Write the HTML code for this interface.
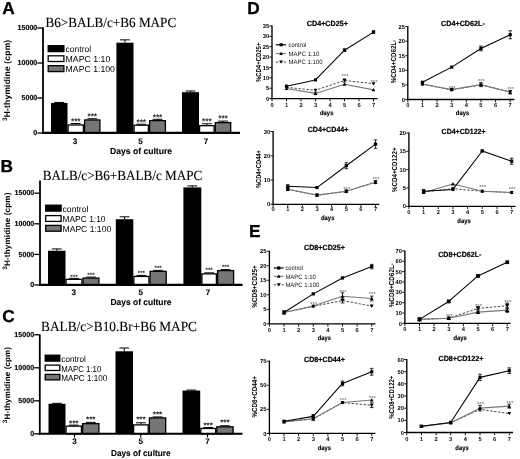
<!DOCTYPE html>
<html lang="en">
<head>
<meta charset="utf-8">
<title>MAPC suppression of T-cell proliferation and activation</title>
<style>
html,body{margin:0;padding:0;background:#fff;}
body{width:520px;height:459px;overflow:hidden;}
svg{display:block;}
svg text{white-space:pre;}
</style>
</head>
<body>
<svg width="520" height="459" viewBox="0 0 520 459" text-rendering="geometricPrecision">
<rect width="520" height="459" fill="#fff"/>
<g filter="url(#soft)">
<text x="2.30" y="13.50" font-size="17.3" font-family="'Liberation Sans', Arial, sans-serif" fill="#000" font-weight="bold" stroke="#000" stroke-width="0.3">A</text>
<text x="45.50" y="26.70" font-size="13.9" font-family="'Liberation Serif', 'Times New Roman', serif" fill="#000" textLength="130.70" lengthAdjust="spacingAndGlyphs" stroke="#000" stroke-width="0.12">B6&gt;BALB/c+B6 MAPC</text>
<text x="7.40" y="121.00" font-size="6.5" font-family="'Liberation Sans', Arial, sans-serif" fill="#000" font-weight="bold" transform="rotate(-90 7.40 121.00)" >3</text>
<text x="10.00" y="117.20" font-size="8.5" font-family="'Liberation Sans', Arial, sans-serif" fill="#000" font-weight="bold" textLength="77.40" lengthAdjust="spacing" transform="rotate(-90 10.00 117.20)" >H-thymidine (cpm)</text>
<line x1="59.25" y1="102.90" x2="59.25" y2="102.45" stroke="#000" stroke-width="1.0" stroke-linecap="butt"/>
<line x1="54.35" y1="102.45" x2="64.15" y2="102.45" stroke="#000" stroke-width="1.0" stroke-linecap="butt"/>
<rect x="51.00" y="102.90" width="16.50" height="30.10" fill="#000"/>
<line x1="75.75" y1="124.39" x2="75.75" y2="123.49" stroke="#000" stroke-width="1.0" stroke-linecap="butt"/>
<line x1="70.85" y1="123.49" x2="80.65" y2="123.49" stroke="#000" stroke-width="1.0" stroke-linecap="butt"/>
<rect x="68.10" y="124.99" width="15.30" height="8.01" fill="#fff" stroke="#000" stroke-width="1.3"/>
<text x="75.75" y="123.56" font-size="8.3" font-family="'Liberation Sans', Arial, sans-serif" fill="#222" text-anchor="middle" font-weight="bold" >***</text>
<line x1="92.25" y1="119.35" x2="92.25" y2="118.75" stroke="#000" stroke-width="1.0" stroke-linecap="butt"/>
<line x1="87.35" y1="118.75" x2="97.15" y2="118.75" stroke="#000" stroke-width="1.0" stroke-linecap="butt"/>
<rect x="84.60" y="119.95" width="15.30" height="13.05" fill="#767676" stroke="#000" stroke-width="1.3"/>
<text x="92.25" y="119.06" font-size="8.3" font-family="'Liberation Sans', Arial, sans-serif" fill="#222" text-anchor="middle" font-weight="bold" >***</text>
<line x1="124.95" y1="42.70" x2="124.95" y2="39.85" stroke="#000" stroke-width="1.0" stroke-linecap="butt"/>
<line x1="120.05" y1="39.85" x2="129.85" y2="39.85" stroke="#000" stroke-width="1.0" stroke-linecap="butt"/>
<rect x="116.40" y="42.70" width="17.10" height="90.30" fill="#000"/>
<line x1="141.25" y1="124.60" x2="141.25" y2="124.22" stroke="#000" stroke-width="1.0" stroke-linecap="butt"/>
<line x1="136.35" y1="124.22" x2="146.15" y2="124.22" stroke="#000" stroke-width="1.0" stroke-linecap="butt"/>
<rect x="134.10" y="125.20" width="14.30" height="7.80" fill="#fff" stroke="#000" stroke-width="1.3"/>
<text x="141.25" y="124.56" font-size="8.3" font-family="'Liberation Sans', Arial, sans-serif" fill="#222" text-anchor="middle" font-weight="bold" >***</text>
<line x1="157.50" y1="120.05" x2="157.50" y2="119.30" stroke="#000" stroke-width="1.0" stroke-linecap="butt"/>
<line x1="152.60" y1="119.30" x2="162.40" y2="119.30" stroke="#000" stroke-width="1.0" stroke-linecap="butt"/>
<rect x="149.60" y="120.65" width="15.80" height="12.35" fill="#767676" stroke="#000" stroke-width="1.3"/>
<text x="157.50" y="119.56" font-size="8.3" font-family="'Liberation Sans', Arial, sans-serif" fill="#222" text-anchor="middle" font-weight="bold" >***</text>
<line x1="190.50" y1="92.19" x2="190.50" y2="90.99" stroke="#000" stroke-width="1.0" stroke-linecap="butt"/>
<line x1="185.60" y1="90.99" x2="195.40" y2="90.99" stroke="#000" stroke-width="1.0" stroke-linecap="butt"/>
<rect x="182.00" y="92.19" width="17.00" height="40.81" fill="#000"/>
<line x1="206.85" y1="125.09" x2="206.85" y2="123.74" stroke="#000" stroke-width="1.0" stroke-linecap="butt"/>
<line x1="201.95" y1="123.74" x2="211.75" y2="123.74" stroke="#000" stroke-width="1.0" stroke-linecap="butt"/>
<rect x="199.60" y="125.69" width="14.50" height="7.31" fill="#fff" stroke="#000" stroke-width="1.3"/>
<text x="206.85" y="123.56" font-size="8.3" font-family="'Liberation Sans', Arial, sans-serif" fill="#222" text-anchor="middle" font-weight="bold" >***</text>
<line x1="223.00" y1="122.01" x2="223.00" y2="121.11" stroke="#000" stroke-width="1.0" stroke-linecap="butt"/>
<line x1="218.10" y1="121.11" x2="227.90" y2="121.11" stroke="#000" stroke-width="1.0" stroke-linecap="butt"/>
<rect x="215.30" y="122.61" width="15.40" height="10.39" fill="#767676" stroke="#000" stroke-width="1.3"/>
<text x="223.00" y="120.56" font-size="8.3" font-family="'Liberation Sans', Arial, sans-serif" fill="#222" text-anchor="middle" font-weight="bold" >***</text>
<line x1="43.00" y1="27.20" x2="43.00" y2="133.90" stroke="#000" stroke-width="1.8" stroke-linecap="butt"/>
<line x1="42.10" y1="132.90" x2="240.00" y2="132.90" stroke="#000" stroke-width="2.1" stroke-linecap="butt"/>
<line x1="37.40" y1="133.00" x2="43.00" y2="133.00" stroke="#000" stroke-width="1.3" stroke-linecap="butt"/>
<text x="37.30" y="135.10" font-size="7.3" font-family="'Liberation Sans', Arial, sans-serif" fill="#000" text-anchor="end" font-weight="bold" textLength="3.95" lengthAdjust="spacingAndGlyphs" stroke="#000" stroke-width="0.15">0</text>
<line x1="37.40" y1="98.00" x2="43.00" y2="98.00" stroke="#000" stroke-width="1.3" stroke-linecap="butt"/>
<text x="37.30" y="100.10" font-size="7.3" font-family="'Liberation Sans', Arial, sans-serif" fill="#000" text-anchor="end" font-weight="bold" textLength="15.80" lengthAdjust="spacingAndGlyphs" stroke="#000" stroke-width="0.15">5000</text>
<line x1="37.40" y1="63.00" x2="43.00" y2="63.00" stroke="#000" stroke-width="1.3" stroke-linecap="butt"/>
<text x="37.30" y="65.10" font-size="7.3" font-family="'Liberation Sans', Arial, sans-serif" fill="#000" text-anchor="end" font-weight="bold" textLength="19.75" lengthAdjust="spacingAndGlyphs" stroke="#000" stroke-width="0.15">10000</text>
<line x1="37.40" y1="28.00" x2="43.00" y2="28.00" stroke="#000" stroke-width="1.3" stroke-linecap="butt"/>
<text x="37.30" y="30.10" font-size="7.3" font-family="'Liberation Sans', Arial, sans-serif" fill="#000" text-anchor="end" font-weight="bold" textLength="19.75" lengthAdjust="spacingAndGlyphs" stroke="#000" stroke-width="0.15">15000</text>
<text x="75.00" y="143.90" font-size="8.1" font-family="'Liberation Sans', Arial, sans-serif" fill="#000" text-anchor="middle" font-weight="bold" stroke="#000" stroke-width="0.12">3</text>
<text x="140.50" y="143.90" font-size="8.1" font-family="'Liberation Sans', Arial, sans-serif" fill="#000" text-anchor="middle" font-weight="bold" stroke="#000" stroke-width="0.12">5</text>
<text x="206.00" y="143.90" font-size="8.1" font-family="'Liberation Sans', Arial, sans-serif" fill="#000" text-anchor="middle" font-weight="bold" stroke="#000" stroke-width="0.12">7</text>
<text x="110.00" y="153.80" font-size="8.7" font-family="'Liberation Sans', Arial, sans-serif" fill="#000" font-weight="bold" textLength="62.00" lengthAdjust="spacingAndGlyphs" stroke="#000" stroke-width="0.12">Days of culture</text>
<rect x="48.20" y="45.70" width="15.70" height="5.90" fill="#000" stroke="#000" stroke-width="1.3"/>
<text x="65.60" y="51.80" font-size="8.6" font-family="'Liberation Sans', Arial, sans-serif" fill="#000" textLength="25.50" lengthAdjust="spacingAndGlyphs" >control</text>
<rect x="48.20" y="55.80" width="15.70" height="5.70" fill="#fff" stroke="#000" stroke-width="1.3"/>
<text x="65.60" y="61.70" font-size="8.6" font-family="'Liberation Sans', Arial, sans-serif" fill="#000" textLength="44.70" lengthAdjust="spacingAndGlyphs" >MAPC 1:10</text>
<rect x="48.20" y="65.70" width="15.70" height="5.90" fill="#767676" stroke="#000" stroke-width="1.3"/>
<text x="65.60" y="71.80" font-size="8.6" font-family="'Liberation Sans', Arial, sans-serif" fill="#000" textLength="49.30" lengthAdjust="spacingAndGlyphs" >MAPC 1:100</text>
<text x="0.40" y="172.30" font-size="17.3" font-family="'Liberation Sans', Arial, sans-serif" fill="#000" font-weight="bold" stroke="#000" stroke-width="0.3">B</text>
<text x="42.70" y="179.70" font-size="13.9" font-family="'Liberation Serif', 'Times New Roman', serif" fill="#000" textLength="159.50" lengthAdjust="spacingAndGlyphs" stroke="#000" stroke-width="0.12">BALB/c&gt;B6+BALB/c MAPC</text>
<text x="7.10" y="269.80" font-size="6.5" font-family="'Liberation Sans', Arial, sans-serif" fill="#000" font-weight="bold" transform="rotate(-90 7.10 269.80)" >3</text>
<text x="9.70" y="266.00" font-size="8.1" font-family="'Liberation Sans', Arial, sans-serif" fill="#000" font-weight="bold" textLength="73.40" lengthAdjust="spacing" transform="rotate(-90 9.70 266.00)" >H-thymidine (cpm)</text>
<line x1="56.75" y1="250.73" x2="56.75" y2="248.93" stroke="#000" stroke-width="1.0" stroke-linecap="butt"/>
<line x1="51.85" y1="248.93" x2="61.65" y2="248.93" stroke="#000" stroke-width="1.0" stroke-linecap="butt"/>
<rect x="48.00" y="250.73" width="17.50" height="34.27" fill="#000"/>
<line x1="74.00" y1="278.76" x2="74.00" y2="278.38" stroke="#000" stroke-width="1.0" stroke-linecap="butt"/>
<line x1="69.10" y1="278.38" x2="78.90" y2="278.38" stroke="#000" stroke-width="1.0" stroke-linecap="butt"/>
<rect x="66.10" y="279.36" width="15.80" height="5.64" fill="#fff" stroke="#000" stroke-width="1.3"/>
<text x="74.00" y="278.99" font-size="6.3" font-family="'Liberation Sans', Arial, sans-serif" fill="#222" text-anchor="middle" font-weight="bold" >***</text>
<line x1="91.00" y1="277.47" x2="91.00" y2="277.10" stroke="#000" stroke-width="1.0" stroke-linecap="butt"/>
<line x1="86.10" y1="277.10" x2="95.90" y2="277.10" stroke="#000" stroke-width="1.0" stroke-linecap="butt"/>
<rect x="83.10" y="278.07" width="15.80" height="6.93" fill="#767676" stroke="#000" stroke-width="1.3"/>
<text x="91.00" y="276.99" font-size="6.3" font-family="'Liberation Sans', Arial, sans-serif" fill="#222" text-anchor="middle" font-weight="bold" >***</text>
<line x1="124.55" y1="219.21" x2="124.55" y2="216.81" stroke="#000" stroke-width="1.0" stroke-linecap="butt"/>
<line x1="119.65" y1="216.81" x2="129.45" y2="216.81" stroke="#000" stroke-width="1.0" stroke-linecap="butt"/>
<rect x="115.80" y="219.21" width="17.50" height="65.79" fill="#000"/>
<line x1="141.40" y1="275.82" x2="141.40" y2="275.37" stroke="#000" stroke-width="1.0" stroke-linecap="butt"/>
<line x1="136.50" y1="275.37" x2="146.30" y2="275.37" stroke="#000" stroke-width="1.0" stroke-linecap="butt"/>
<rect x="133.90" y="276.42" width="15.00" height="8.58" fill="#fff" stroke="#000" stroke-width="1.3"/>
<text x="141.40" y="275.29" font-size="6.3" font-family="'Liberation Sans', Arial, sans-serif" fill="#222" text-anchor="middle" font-weight="bold" >***</text>
<line x1="158.15" y1="270.74" x2="158.15" y2="270.37" stroke="#000" stroke-width="1.0" stroke-linecap="butt"/>
<line x1="153.25" y1="270.37" x2="163.05" y2="270.37" stroke="#000" stroke-width="1.0" stroke-linecap="butt"/>
<rect x="150.10" y="271.34" width="16.10" height="13.66" fill="#767676" stroke="#000" stroke-width="1.3"/>
<text x="158.15" y="269.79" font-size="6.3" font-family="'Liberation Sans', Arial, sans-serif" fill="#222" text-anchor="middle" font-weight="bold" >***</text>
<line x1="192.35" y1="187.39" x2="192.35" y2="185.89" stroke="#000" stroke-width="1.0" stroke-linecap="butt"/>
<line x1="187.45" y1="185.89" x2="197.25" y2="185.89" stroke="#000" stroke-width="1.0" stroke-linecap="butt"/>
<rect x="183.40" y="187.39" width="17.90" height="97.61" fill="#000"/>
<line x1="209.15" y1="273.25" x2="209.15" y2="272.87" stroke="#000" stroke-width="1.0" stroke-linecap="butt"/>
<line x1="204.25" y1="272.87" x2="214.05" y2="272.87" stroke="#000" stroke-width="1.0" stroke-linecap="butt"/>
<rect x="201.90" y="273.85" width="14.50" height="11.15" fill="#fff" stroke="#000" stroke-width="1.3"/>
<text x="209.15" y="272.29" font-size="6.3" font-family="'Liberation Sans', Arial, sans-serif" fill="#222" text-anchor="middle" font-weight="bold" >***</text>
<line x1="225.60" y1="270.01" x2="225.60" y2="269.63" stroke="#000" stroke-width="1.0" stroke-linecap="butt"/>
<line x1="220.70" y1="269.63" x2="230.50" y2="269.63" stroke="#000" stroke-width="1.0" stroke-linecap="butt"/>
<rect x="217.60" y="270.61" width="16.00" height="14.39" fill="#767676" stroke="#000" stroke-width="1.3"/>
<text x="225.60" y="269.29" font-size="6.3" font-family="'Liberation Sans', Arial, sans-serif" fill="#222" text-anchor="middle" font-weight="bold" >***</text>
<line x1="40.00" y1="180.40" x2="40.00" y2="285.90" stroke="#000" stroke-width="1.8" stroke-linecap="butt"/>
<line x1="39.10" y1="284.90" x2="242.50" y2="284.90" stroke="#000" stroke-width="2.1" stroke-linecap="butt"/>
<line x1="34.40" y1="285.00" x2="40.00" y2="285.00" stroke="#000" stroke-width="1.3" stroke-linecap="butt"/>
<text x="34.30" y="287.10" font-size="7.3" font-family="'Liberation Sans', Arial, sans-serif" fill="#000" text-anchor="end" font-weight="bold" textLength="3.95" lengthAdjust="spacingAndGlyphs" stroke="#000" stroke-width="0.15">0</text>
<line x1="34.40" y1="254.40" x2="40.00" y2="254.40" stroke="#000" stroke-width="1.3" stroke-linecap="butt"/>
<text x="34.30" y="256.50" font-size="7.3" font-family="'Liberation Sans', Arial, sans-serif" fill="#000" text-anchor="end" font-weight="bold" textLength="15.80" lengthAdjust="spacingAndGlyphs" stroke="#000" stroke-width="0.15">5000</text>
<line x1="34.40" y1="223.80" x2="40.00" y2="223.80" stroke="#000" stroke-width="1.3" stroke-linecap="butt"/>
<text x="34.30" y="225.90" font-size="7.3" font-family="'Liberation Sans', Arial, sans-serif" fill="#000" text-anchor="end" font-weight="bold" textLength="19.75" lengthAdjust="spacingAndGlyphs" stroke="#000" stroke-width="0.15">10000</text>
<line x1="34.40" y1="193.20" x2="40.00" y2="193.20" stroke="#000" stroke-width="1.3" stroke-linecap="butt"/>
<text x="34.30" y="195.30" font-size="7.3" font-family="'Liberation Sans', Arial, sans-serif" fill="#000" text-anchor="end" font-weight="bold" textLength="19.75" lengthAdjust="spacingAndGlyphs" stroke="#000" stroke-width="0.15">15000</text>
<text x="73.80" y="295.40" font-size="8.1" font-family="'Liberation Sans', Arial, sans-serif" fill="#000" text-anchor="middle" font-weight="bold" stroke="#000" stroke-width="0.12">3</text>
<text x="140.80" y="295.40" font-size="8.1" font-family="'Liberation Sans', Arial, sans-serif" fill="#000" text-anchor="middle" font-weight="bold" stroke="#000" stroke-width="0.12">5</text>
<text x="208.00" y="295.40" font-size="8.1" font-family="'Liberation Sans', Arial, sans-serif" fill="#000" text-anchor="middle" font-weight="bold" stroke="#000" stroke-width="0.12">7</text>
<text x="110.50" y="304.70" font-size="8.7" font-family="'Liberation Sans', Arial, sans-serif" fill="#000" font-weight="bold" textLength="61.00" lengthAdjust="spacingAndGlyphs" stroke="#000" stroke-width="0.12">Days of culture</text>
<rect x="45.70" y="205.20" width="15.40" height="5.90" fill="#000" stroke="#000" stroke-width="1.3"/>
<text x="62.50" y="212.10" font-size="8.6" font-family="'Liberation Sans', Arial, sans-serif" fill="#000" textLength="26.00" lengthAdjust="spacingAndGlyphs" >control</text>
<rect x="45.70" y="215.60" width="15.40" height="5.80" fill="#fff" stroke="#000" stroke-width="1.3"/>
<text x="62.50" y="222.40" font-size="8.6" font-family="'Liberation Sans', Arial, sans-serif" fill="#000" textLength="43.00" lengthAdjust="spacingAndGlyphs" >MAPC 1:10</text>
<rect x="45.70" y="225.40" width="15.40" height="5.80" fill="#767676" stroke="#000" stroke-width="1.3"/>
<text x="62.50" y="232.20" font-size="8.6" font-family="'Liberation Sans', Arial, sans-serif" fill="#000" textLength="48.70" lengthAdjust="spacingAndGlyphs" >MAPC 1:100</text>
<text x="2.30" y="321.80" font-size="17.3" font-family="'Liberation Sans', Arial, sans-serif" fill="#000" font-weight="bold" stroke="#000" stroke-width="0.3">C</text>
<text x="41.00" y="331.30" font-size="13.9" font-family="'Liberation Serif', 'Times New Roman', serif" fill="#000" textLength="156.00" lengthAdjust="spacingAndGlyphs" stroke="#000" stroke-width="0.12">BALB/c&gt;B10.Br+B6 MAPC</text>
<text x="7.30" y="423.20" font-size="6.5" font-family="'Liberation Sans', Arial, sans-serif" fill="#000" font-weight="bold" transform="rotate(-90 7.30 423.20)" >3</text>
<text x="9.90" y="419.40" font-size="8.0" font-family="'Liberation Sans', Arial, sans-serif" fill="#000" font-weight="bold" textLength="72.40" lengthAdjust="spacing" transform="rotate(-90 9.90 419.40)" >H-thymidine (cpm)</text>
<line x1="57.00" y1="403.77" x2="57.00" y2="403.32" stroke="#000" stroke-width="1.0" stroke-linecap="butt"/>
<line x1="52.10" y1="403.32" x2="61.90" y2="403.32" stroke="#000" stroke-width="1.0" stroke-linecap="butt"/>
<rect x="48.50" y="403.77" width="17.00" height="30.03" fill="#000"/>
<line x1="73.75" y1="425.55" x2="73.75" y2="425.10" stroke="#000" stroke-width="1.0" stroke-linecap="butt"/>
<line x1="68.85" y1="425.10" x2="78.65" y2="425.10" stroke="#000" stroke-width="1.0" stroke-linecap="butt"/>
<rect x="66.10" y="426.15" width="15.30" height="7.65" fill="#fff" stroke="#000" stroke-width="1.3"/>
<text x="73.75" y="425.94" font-size="8.1" font-family="'Liberation Sans', Arial, sans-serif" fill="#222" text-anchor="middle" font-weight="bold" >***</text>
<line x1="90.75" y1="423.04" x2="90.75" y2="422.37" stroke="#000" stroke-width="1.0" stroke-linecap="butt"/>
<line x1="85.85" y1="422.37" x2="95.65" y2="422.37" stroke="#000" stroke-width="1.0" stroke-linecap="butt"/>
<rect x="82.60" y="423.64" width="16.30" height="10.16" fill="#767676" stroke="#000" stroke-width="1.3"/>
<text x="90.75" y="422.44" font-size="8.1" font-family="'Liberation Sans', Arial, sans-serif" fill="#222" text-anchor="middle" font-weight="bold" >***</text>
<line x1="124.25" y1="351.30" x2="124.25" y2="348.00" stroke="#000" stroke-width="1.0" stroke-linecap="butt"/>
<line x1="119.35" y1="348.00" x2="129.15" y2="348.00" stroke="#000" stroke-width="1.0" stroke-linecap="butt"/>
<rect x="115.50" y="351.30" width="17.50" height="82.50" fill="#000"/>
<line x1="140.90" y1="424.30" x2="140.90" y2="422.80" stroke="#000" stroke-width="1.0" stroke-linecap="butt"/>
<line x1="136.00" y1="422.80" x2="145.80" y2="422.80" stroke="#000" stroke-width="1.0" stroke-linecap="butt"/>
<rect x="133.60" y="424.90" width="14.60" height="8.90" fill="#fff" stroke="#000" stroke-width="1.3"/>
<text x="140.90" y="422.44" font-size="8.1" font-family="'Liberation Sans', Arial, sans-serif" fill="#222" text-anchor="middle" font-weight="bold" >***</text>
<line x1="157.55" y1="417.30" x2="157.55" y2="416.93" stroke="#000" stroke-width="1.0" stroke-linecap="butt"/>
<line x1="152.65" y1="416.93" x2="162.45" y2="416.93" stroke="#000" stroke-width="1.0" stroke-linecap="butt"/>
<rect x="149.40" y="417.90" width="16.30" height="15.90" fill="#767676" stroke="#000" stroke-width="1.3"/>
<text x="157.55" y="416.74" font-size="8.1" font-family="'Liberation Sans', Arial, sans-serif" fill="#222" text-anchor="middle" font-weight="bold" >***</text>
<line x1="191.35" y1="390.57" x2="191.35" y2="390.05" stroke="#000" stroke-width="1.0" stroke-linecap="butt"/>
<line x1="186.45" y1="390.05" x2="196.25" y2="390.05" stroke="#000" stroke-width="1.0" stroke-linecap="butt"/>
<rect x="182.50" y="390.57" width="17.70" height="43.23" fill="#000"/>
<line x1="208.20" y1="427.86" x2="208.20" y2="427.49" stroke="#000" stroke-width="1.0" stroke-linecap="butt"/>
<line x1="203.30" y1="427.49" x2="213.10" y2="427.49" stroke="#000" stroke-width="1.0" stroke-linecap="butt"/>
<rect x="200.80" y="428.46" width="14.80" height="5.34" fill="#fff" stroke="#000" stroke-width="1.3"/>
<text x="208.20" y="427.94" font-size="8.1" font-family="'Liberation Sans', Arial, sans-serif" fill="#222" text-anchor="middle" font-weight="bold" >***</text>
<line x1="224.95" y1="426.21" x2="224.95" y2="425.76" stroke="#000" stroke-width="1.0" stroke-linecap="butt"/>
<line x1="220.05" y1="425.76" x2="229.85" y2="425.76" stroke="#000" stroke-width="1.0" stroke-linecap="butt"/>
<rect x="216.80" y="426.81" width="16.30" height="6.99" fill="#767676" stroke="#000" stroke-width="1.3"/>
<text x="224.95" y="424.74" font-size="8.1" font-family="'Liberation Sans', Arial, sans-serif" fill="#222" text-anchor="middle" font-weight="bold" >***</text>
<line x1="39.80" y1="334.40" x2="39.80" y2="434.70" stroke="#000" stroke-width="1.8" stroke-linecap="butt"/>
<line x1="38.90" y1="433.70" x2="242.50" y2="433.70" stroke="#000" stroke-width="2.1" stroke-linecap="butt"/>
<line x1="34.20" y1="433.80" x2="39.80" y2="433.80" stroke="#000" stroke-width="1.3" stroke-linecap="butt"/>
<text x="34.10" y="435.90" font-size="7.3" font-family="'Liberation Sans', Arial, sans-serif" fill="#000" text-anchor="end" font-weight="bold" textLength="3.95" lengthAdjust="spacingAndGlyphs" stroke="#000" stroke-width="0.15">0</text>
<line x1="34.20" y1="400.80" x2="39.80" y2="400.80" stroke="#000" stroke-width="1.3" stroke-linecap="butt"/>
<text x="34.10" y="402.90" font-size="7.3" font-family="'Liberation Sans', Arial, sans-serif" fill="#000" text-anchor="end" font-weight="bold" textLength="15.80" lengthAdjust="spacingAndGlyphs" stroke="#000" stroke-width="0.15">5000</text>
<line x1="34.20" y1="367.80" x2="39.80" y2="367.80" stroke="#000" stroke-width="1.3" stroke-linecap="butt"/>
<text x="34.10" y="369.90" font-size="7.3" font-family="'Liberation Sans', Arial, sans-serif" fill="#000" text-anchor="end" font-weight="bold" textLength="19.75" lengthAdjust="spacingAndGlyphs" stroke="#000" stroke-width="0.15">10000</text>
<line x1="34.20" y1="334.80" x2="39.80" y2="334.80" stroke="#000" stroke-width="1.3" stroke-linecap="butt"/>
<text x="34.10" y="336.90" font-size="7.3" font-family="'Liberation Sans', Arial, sans-serif" fill="#000" text-anchor="end" font-weight="bold" textLength="19.75" lengthAdjust="spacingAndGlyphs" stroke="#000" stroke-width="0.15">15000</text>
<line x1="74.50" y1="433.80" x2="74.50" y2="437.40" stroke="#000" stroke-width="1.2" stroke-linecap="butt"/>
<line x1="140.80" y1="433.80" x2="140.80" y2="437.40" stroke="#000" stroke-width="1.2" stroke-linecap="butt"/>
<line x1="207.50" y1="433.80" x2="207.50" y2="437.40" stroke="#000" stroke-width="1.2" stroke-linecap="butt"/>
<text x="74.50" y="443.90" font-size="8.1" font-family="'Liberation Sans', Arial, sans-serif" fill="#000" text-anchor="middle" font-weight="bold" stroke="#000" stroke-width="0.12">3</text>
<text x="140.80" y="443.90" font-size="8.1" font-family="'Liberation Sans', Arial, sans-serif" fill="#000" text-anchor="middle" font-weight="bold" stroke="#000" stroke-width="0.12">5</text>
<text x="207.50" y="443.90" font-size="8.1" font-family="'Liberation Sans', Arial, sans-serif" fill="#000" text-anchor="middle" font-weight="bold" stroke="#000" stroke-width="0.12">7</text>
<text x="111.00" y="455.80" font-size="8.7" font-family="'Liberation Sans', Arial, sans-serif" fill="#000" font-weight="bold" textLength="59.50" lengthAdjust="spacingAndGlyphs" stroke="#000" stroke-width="0.12">Days of culture</text>
<rect x="45.20" y="355.20" width="14.60" height="5.90" fill="#000" stroke="#000" stroke-width="1.3"/>
<text x="61.30" y="362.10" font-size="8.6" font-family="'Liberation Sans', Arial, sans-serif" fill="#000" textLength="24.50" lengthAdjust="spacingAndGlyphs" >control</text>
<rect x="45.20" y="365.10" width="14.60" height="5.40" fill="#fff" stroke="#000" stroke-width="1.3"/>
<text x="61.30" y="371.50" font-size="8.6" font-family="'Liberation Sans', Arial, sans-serif" fill="#000" textLength="40.00" lengthAdjust="spacingAndGlyphs" >MAPC 1:10</text>
<rect x="45.20" y="374.40" width="14.60" height="5.50" fill="#767676" stroke="#000" stroke-width="1.3"/>
<text x="61.30" y="380.90" font-size="8.6" font-family="'Liberation Sans', Arial, sans-serif" fill="#000" textLength="46.00" lengthAdjust="spacingAndGlyphs" >MAPC 1:100</text>
<text x="306.75" y="26.30" font-size="7.5" font-family="'Liberation Sans', Arial, sans-serif" fill="#000" font-weight="bold" textLength="41.25" lengthAdjust="spacingAndGlyphs" stroke="#000" stroke-width="0.2">CD4+CD25+</text>
<polyline points="286.50,87.38 315.50,90.29 344.50,80.53 373.50,83.64" fill="none" stroke="#333" stroke-width="0.9" stroke-dasharray="2.4 1.6" stroke-linejoin="round"/>
<polyline points="286.50,88.42 315.50,93.41 344.50,84.27 373.50,89.88" fill="none" stroke="#787878" stroke-width="1.1" stroke-linejoin="round"/>
<polyline points="286.50,86.14 315.50,79.91 344.50,50.20 373.50,32.13" fill="none" stroke="#000" stroke-width="1.05" stroke-linejoin="round"/>
<polygon points="284.64,85.90 288.36,85.90 286.50,89.15" fill="#000"/>
<polygon points="313.64,88.80 317.36,88.80 315.50,92.06" fill="#000"/>
<line x1="344.50" y1="78.93" x2="344.50" y2="82.13" stroke="#000" stroke-width="0.8" stroke-linecap="butt"/>
<line x1="342.70" y1="78.93" x2="346.30" y2="78.93" stroke="#000" stroke-width="0.8" stroke-linecap="butt"/>
<line x1="342.70" y1="82.13" x2="346.30" y2="82.13" stroke="#000" stroke-width="0.8" stroke-linecap="butt"/>
<polygon points="342.64,79.04 346.36,79.04 344.50,82.30" fill="#000"/>
<polygon points="371.64,82.16 375.36,82.16 373.50,85.41" fill="#000"/>
<polygon points="284.64,89.91 288.36,89.91 286.50,86.66" fill="#000"/>
<line x1="315.50" y1="92.21" x2="315.50" y2="94.61" stroke="#000" stroke-width="0.8" stroke-linecap="butt"/>
<line x1="313.70" y1="92.21" x2="317.30" y2="92.21" stroke="#000" stroke-width="0.8" stroke-linecap="butt"/>
<line x1="313.70" y1="94.61" x2="317.30" y2="94.61" stroke="#000" stroke-width="0.8" stroke-linecap="butt"/>
<polygon points="313.64,94.90 317.36,94.90 315.50,91.64" fill="#000"/>
<polygon points="342.64,85.76 346.36,85.76 344.50,82.50" fill="#000"/>
<polygon points="371.64,91.36 375.36,91.36 373.50,88.11" fill="#000"/>
<rect x="284.95" y="84.59" width="3.10" height="3.10" fill="#000"/>
<rect x="313.95" y="78.36" width="3.10" height="3.10" fill="#000"/>
<line x1="344.50" y1="48.90" x2="344.50" y2="51.50" stroke="#000" stroke-width="0.8" stroke-linecap="butt"/>
<line x1="342.70" y1="48.90" x2="346.30" y2="48.90" stroke="#000" stroke-width="0.8" stroke-linecap="butt"/>
<line x1="342.70" y1="51.50" x2="346.30" y2="51.50" stroke="#000" stroke-width="0.8" stroke-linecap="butt"/>
<rect x="342.95" y="48.65" width="3.10" height="3.10" fill="#000"/>
<line x1="373.50" y1="30.83" x2="373.50" y2="33.43" stroke="#000" stroke-width="0.8" stroke-linecap="butt"/>
<line x1="371.70" y1="30.83" x2="375.30" y2="30.83" stroke="#000" stroke-width="0.8" stroke-linecap="butt"/>
<line x1="371.70" y1="33.43" x2="375.30" y2="33.43" stroke="#000" stroke-width="0.8" stroke-linecap="butt"/>
<rect x="371.95" y="30.58" width="3.10" height="3.10" fill="#000"/>
<text x="345.00" y="78.01" font-size="6.0" font-family="'Liberation Sans', Arial, sans-serif" fill="#555" text-anchor="middle" >***</text>
<text x="374.00" y="83.51" font-size="6.0" font-family="'Liberation Sans', Arial, sans-serif" fill="#555" text-anchor="middle" >***</text>
<line x1="272.00" y1="25.40" x2="272.00" y2="99.20" stroke="#000" stroke-width="1.35" stroke-linecap="butt"/>
<line x1="271.40" y1="98.60" x2="377.50" y2="98.60" stroke="#000" stroke-width="1.3" stroke-linecap="butt"/>
<line x1="269.30" y1="98.60" x2="272.00" y2="98.60" stroke="#000" stroke-width="0.9" stroke-linecap="butt"/>
<text x="269.10" y="100.70" font-size="5.8" font-family="'Liberation Sans', Arial, sans-serif" fill="#000" text-anchor="end" font-weight="bold" textLength="3.20" lengthAdjust="spacingAndGlyphs" >0</text>
<line x1="269.30" y1="88.21" x2="272.00" y2="88.21" stroke="#000" stroke-width="0.9" stroke-linecap="butt"/>
<text x="269.10" y="90.31" font-size="5.8" font-family="'Liberation Sans', Arial, sans-serif" fill="#000" text-anchor="end" font-weight="bold" textLength="3.20" lengthAdjust="spacingAndGlyphs" >5</text>
<line x1="269.30" y1="77.83" x2="272.00" y2="77.83" stroke="#000" stroke-width="0.9" stroke-linecap="butt"/>
<text x="269.10" y="79.93" font-size="5.8" font-family="'Liberation Sans', Arial, sans-serif" fill="#000" text-anchor="end" font-weight="bold" textLength="6.40" lengthAdjust="spacingAndGlyphs" >10</text>
<line x1="269.30" y1="67.44" x2="272.00" y2="67.44" stroke="#000" stroke-width="0.9" stroke-linecap="butt"/>
<text x="269.10" y="69.54" font-size="5.8" font-family="'Liberation Sans', Arial, sans-serif" fill="#000" text-anchor="end" font-weight="bold" textLength="6.40" lengthAdjust="spacingAndGlyphs" >15</text>
<line x1="269.30" y1="57.06" x2="272.00" y2="57.06" stroke="#000" stroke-width="0.9" stroke-linecap="butt"/>
<text x="269.10" y="59.16" font-size="5.8" font-family="'Liberation Sans', Arial, sans-serif" fill="#000" text-anchor="end" font-weight="bold" textLength="6.40" lengthAdjust="spacingAndGlyphs" >20</text>
<line x1="269.30" y1="46.67" x2="272.00" y2="46.67" stroke="#000" stroke-width="0.9" stroke-linecap="butt"/>
<text x="269.10" y="48.77" font-size="5.8" font-family="'Liberation Sans', Arial, sans-serif" fill="#000" text-anchor="end" font-weight="bold" textLength="6.40" lengthAdjust="spacingAndGlyphs" >25</text>
<line x1="269.30" y1="36.29" x2="272.00" y2="36.29" stroke="#000" stroke-width="0.9" stroke-linecap="butt"/>
<text x="269.10" y="38.39" font-size="5.8" font-family="'Liberation Sans', Arial, sans-serif" fill="#000" text-anchor="end" font-weight="bold" textLength="6.40" lengthAdjust="spacingAndGlyphs" >30</text>
<line x1="269.30" y1="25.90" x2="272.00" y2="25.90" stroke="#000" stroke-width="0.9" stroke-linecap="butt"/>
<text x="269.10" y="28.00" font-size="5.8" font-family="'Liberation Sans', Arial, sans-serif" fill="#000" text-anchor="end" font-weight="bold" textLength="6.40" lengthAdjust="spacingAndGlyphs" >35</text>
<line x1="272.00" y1="98.60" x2="272.00" y2="101.40" stroke="#000" stroke-width="0.9" stroke-linecap="butt"/>
<text x="272.00" y="106.60" font-size="5.8" font-family="'Liberation Sans', Arial, sans-serif" fill="#111" text-anchor="middle" font-weight="bold" textLength="3.20" lengthAdjust="spacingAndGlyphs" >0</text>
<line x1="286.50" y1="98.60" x2="286.50" y2="101.40" stroke="#000" stroke-width="0.9" stroke-linecap="butt"/>
<text x="286.50" y="106.60" font-size="5.8" font-family="'Liberation Sans', Arial, sans-serif" fill="#111" text-anchor="middle" font-weight="bold" textLength="3.20" lengthAdjust="spacingAndGlyphs" >1</text>
<line x1="301.00" y1="98.60" x2="301.00" y2="101.40" stroke="#000" stroke-width="0.9" stroke-linecap="butt"/>
<text x="301.00" y="106.60" font-size="5.8" font-family="'Liberation Sans', Arial, sans-serif" fill="#111" text-anchor="middle" font-weight="bold" textLength="3.20" lengthAdjust="spacingAndGlyphs" >2</text>
<line x1="315.50" y1="98.60" x2="315.50" y2="101.40" stroke="#000" stroke-width="0.9" stroke-linecap="butt"/>
<text x="315.50" y="106.60" font-size="5.8" font-family="'Liberation Sans', Arial, sans-serif" fill="#111" text-anchor="middle" font-weight="bold" textLength="3.20" lengthAdjust="spacingAndGlyphs" >3</text>
<line x1="330.00" y1="98.60" x2="330.00" y2="101.40" stroke="#000" stroke-width="0.9" stroke-linecap="butt"/>
<text x="330.00" y="106.60" font-size="5.8" font-family="'Liberation Sans', Arial, sans-serif" fill="#111" text-anchor="middle" font-weight="bold" textLength="3.20" lengthAdjust="spacingAndGlyphs" >4</text>
<line x1="344.50" y1="98.60" x2="344.50" y2="101.40" stroke="#000" stroke-width="0.9" stroke-linecap="butt"/>
<text x="344.50" y="106.60" font-size="5.8" font-family="'Liberation Sans', Arial, sans-serif" fill="#111" text-anchor="middle" font-weight="bold" textLength="3.20" lengthAdjust="spacingAndGlyphs" >5</text>
<line x1="359.00" y1="98.60" x2="359.00" y2="101.40" stroke="#000" stroke-width="0.9" stroke-linecap="butt"/>
<text x="359.00" y="106.60" font-size="5.8" font-family="'Liberation Sans', Arial, sans-serif" fill="#111" text-anchor="middle" font-weight="bold" textLength="3.20" lengthAdjust="spacingAndGlyphs" >6</text>
<line x1="373.50" y1="98.60" x2="373.50" y2="101.40" stroke="#000" stroke-width="0.9" stroke-linecap="butt"/>
<text x="373.50" y="106.60" font-size="5.8" font-family="'Liberation Sans', Arial, sans-serif" fill="#111" text-anchor="middle" font-weight="bold" textLength="3.20" lengthAdjust="spacingAndGlyphs" >7</text>
<text x="326.70" y="114.70" font-size="6.6" font-family="'Liberation Sans', Arial, sans-serif" fill="#000" text-anchor="middle" font-weight="bold" textLength="13.40" lengthAdjust="spacingAndGlyphs" stroke="#000" stroke-width="0.15">days</text>
<text x="261.20" y="82.05" font-size="7.2" font-family="'Liberation Sans', Arial, sans-serif" fill="#000" font-weight="bold" textLength="39.45" lengthAdjust="spacingAndGlyphs" transform="rotate(-90 261.20 82.05)" >%CD4+CD25+</text>
<line x1="275.80" y1="44.80" x2="286.10" y2="44.80" stroke="#000" stroke-width="1.2" stroke-linecap="butt"/>
<rect x="279.55" y="43.25" width="3.10" height="3.10" fill="#000"/>
<text x="288.50" y="47.00" font-size="6.3" font-family="'Liberation Sans', Arial, sans-serif" fill="#111" textLength="17.80" lengthAdjust="spacingAndGlyphs" >control</text>
<line x1="275.80" y1="53.45" x2="286.10" y2="53.45" stroke="#787878" stroke-width="1.1" stroke-linecap="butt"/>
<polygon points="279.24,54.94 282.96,54.94 281.10,51.68" fill="#000"/>
<text x="288.50" y="55.65" font-size="6.3" font-family="'Liberation Sans', Arial, sans-serif" fill="#111" textLength="31.00" lengthAdjust="spacingAndGlyphs" >MAPC 1:10</text>
<line x1="275.80" y1="62.10" x2="286.10" y2="62.10" stroke="#333" stroke-width="0.9" stroke-dasharray="2.4 1.6" stroke-linecap="butt"/>
<polygon points="279.24,60.61 282.96,60.61 281.10,63.87" fill="#000"/>
<text x="288.50" y="64.30" font-size="6.3" font-family="'Liberation Sans', Arial, sans-serif" fill="#111" textLength="34.00" lengthAdjust="spacingAndGlyphs" >MAPC 1:100</text>
<text x="441.00" y="26.40" font-size="7.5" font-family="'Liberation Sans', Arial, sans-serif" fill="#000" font-weight="bold" textLength="43.90" lengthAdjust="spacingAndGlyphs" stroke="#000" stroke-width="0.2">CD4+CD62L-</text>
<polyline points="422.43,84.34 451.69,89.88 480.95,84.92 510.21,91.92" fill="none" stroke="#333" stroke-width="0.9" stroke-dasharray="2.4 1.6" stroke-linejoin="round"/>
<polyline points="422.43,84.05 451.69,89.59 480.95,84.63 510.21,92.21" fill="none" stroke="#787878" stroke-width="1.1" stroke-linejoin="round"/>
<polyline points="422.43,82.30 451.69,67.13 480.95,48.47 510.21,34.76" fill="none" stroke="#000" stroke-width="1.05" stroke-linejoin="round"/>
<polygon points="420.51,82.80 424.35,82.80 422.43,86.16" fill="#000"/>
<polygon points="449.77,88.34 453.61,88.34 451.69,91.70" fill="#000"/>
<polygon points="479.03,83.38 482.87,83.38 480.95,86.74" fill="#000"/>
<polygon points="508.29,90.38 512.13,90.38 510.21,93.74" fill="#000"/>
<polygon points="420.51,85.58 424.35,85.58 422.43,82.22" fill="#000"/>
<line x1="451.69" y1="88.39" x2="451.69" y2="90.79" stroke="#000" stroke-width="0.8" stroke-linecap="butt"/>
<line x1="449.89" y1="88.39" x2="453.49" y2="88.39" stroke="#000" stroke-width="0.8" stroke-linecap="butt"/>
<line x1="449.89" y1="90.79" x2="453.49" y2="90.79" stroke="#000" stroke-width="0.8" stroke-linecap="butt"/>
<polygon points="449.77,91.12 453.61,91.12 451.69,87.76" fill="#000"/>
<line x1="480.95" y1="82.63" x2="480.95" y2="86.63" stroke="#000" stroke-width="0.8" stroke-linecap="butt"/>
<line x1="479.15" y1="82.63" x2="482.75" y2="82.63" stroke="#000" stroke-width="0.8" stroke-linecap="butt"/>
<line x1="479.15" y1="86.63" x2="482.75" y2="86.63" stroke="#000" stroke-width="0.8" stroke-linecap="butt"/>
<polygon points="479.03,86.16 482.87,86.16 480.95,82.80" fill="#000"/>
<line x1="510.21" y1="90.41" x2="510.21" y2="94.01" stroke="#000" stroke-width="0.8" stroke-linecap="butt"/>
<line x1="508.41" y1="90.41" x2="512.01" y2="90.41" stroke="#000" stroke-width="0.8" stroke-linecap="butt"/>
<line x1="508.41" y1="94.01" x2="512.01" y2="94.01" stroke="#000" stroke-width="0.8" stroke-linecap="butt"/>
<polygon points="508.29,93.75 512.13,93.75 510.21,90.39" fill="#000"/>
<rect x="420.83" y="80.70" width="3.20" height="3.20" fill="#000"/>
<rect x="450.09" y="65.53" width="3.20" height="3.20" fill="#000"/>
<line x1="480.95" y1="46.07" x2="480.95" y2="50.87" stroke="#000" stroke-width="0.8" stroke-linecap="butt"/>
<line x1="479.15" y1="46.07" x2="482.75" y2="46.07" stroke="#000" stroke-width="0.8" stroke-linecap="butt"/>
<line x1="479.15" y1="50.87" x2="482.75" y2="50.87" stroke="#000" stroke-width="0.8" stroke-linecap="butt"/>
<rect x="479.35" y="46.87" width="3.20" height="3.20" fill="#000"/>
<line x1="510.21" y1="30.76" x2="510.21" y2="38.76" stroke="#000" stroke-width="0.8" stroke-linecap="butt"/>
<line x1="508.41" y1="30.76" x2="512.01" y2="30.76" stroke="#000" stroke-width="0.8" stroke-linecap="butt"/>
<line x1="508.41" y1="38.76" x2="512.01" y2="38.76" stroke="#000" stroke-width="0.8" stroke-linecap="butt"/>
<rect x="508.61" y="33.16" width="3.20" height="3.20" fill="#000"/>
<text x="452.19" y="89.76" font-size="6.0" font-family="'Liberation Sans', Arial, sans-serif" fill="#555" text-anchor="middle" >***</text>
<text x="481.45" y="83.01" font-size="6.0" font-family="'Liberation Sans', Arial, sans-serif" fill="#555" text-anchor="middle" >***</text>
<text x="510.71" y="91.01" font-size="6.0" font-family="'Liberation Sans', Arial, sans-serif" fill="#555" text-anchor="middle" >***</text>
<line x1="407.80" y1="26.10" x2="407.80" y2="100.10" stroke="#000" stroke-width="1.35" stroke-linecap="butt"/>
<line x1="407.20" y1="99.50" x2="514.30" y2="99.50" stroke="#000" stroke-width="1.3" stroke-linecap="butt"/>
<line x1="405.10" y1="99.50" x2="407.80" y2="99.50" stroke="#000" stroke-width="0.9" stroke-linecap="butt"/>
<text x="404.90" y="101.60" font-size="5.8" font-family="'Liberation Sans', Arial, sans-serif" fill="#000" text-anchor="end" font-weight="bold" textLength="3.20" lengthAdjust="spacingAndGlyphs" >0</text>
<line x1="405.10" y1="84.92" x2="407.80" y2="84.92" stroke="#000" stroke-width="0.9" stroke-linecap="butt"/>
<text x="404.90" y="87.02" font-size="5.8" font-family="'Liberation Sans', Arial, sans-serif" fill="#000" text-anchor="end" font-weight="bold" textLength="3.20" lengthAdjust="spacingAndGlyphs" >5</text>
<line x1="405.10" y1="70.34" x2="407.80" y2="70.34" stroke="#000" stroke-width="0.9" stroke-linecap="butt"/>
<text x="404.90" y="72.44" font-size="5.8" font-family="'Liberation Sans', Arial, sans-serif" fill="#000" text-anchor="end" font-weight="bold" textLength="6.40" lengthAdjust="spacingAndGlyphs" >10</text>
<line x1="405.10" y1="55.76" x2="407.80" y2="55.76" stroke="#000" stroke-width="0.9" stroke-linecap="butt"/>
<text x="404.90" y="57.86" font-size="5.8" font-family="'Liberation Sans', Arial, sans-serif" fill="#000" text-anchor="end" font-weight="bold" textLength="6.40" lengthAdjust="spacingAndGlyphs" >15</text>
<line x1="405.10" y1="41.18" x2="407.80" y2="41.18" stroke="#000" stroke-width="0.9" stroke-linecap="butt"/>
<text x="404.90" y="43.28" font-size="5.8" font-family="'Liberation Sans', Arial, sans-serif" fill="#000" text-anchor="end" font-weight="bold" textLength="6.40" lengthAdjust="spacingAndGlyphs" >20</text>
<line x1="405.10" y1="26.60" x2="407.80" y2="26.60" stroke="#000" stroke-width="0.9" stroke-linecap="butt"/>
<text x="404.90" y="28.70" font-size="5.8" font-family="'Liberation Sans', Arial, sans-serif" fill="#000" text-anchor="end" font-weight="bold" textLength="6.40" lengthAdjust="spacingAndGlyphs" >25</text>
<line x1="407.80" y1="99.50" x2="407.80" y2="102.30" stroke="#000" stroke-width="0.9" stroke-linecap="butt"/>
<text x="407.80" y="107.40" font-size="5.8" font-family="'Liberation Sans', Arial, sans-serif" fill="#111" text-anchor="middle" font-weight="bold" textLength="3.20" lengthAdjust="spacingAndGlyphs" >0</text>
<line x1="422.43" y1="99.50" x2="422.43" y2="102.30" stroke="#000" stroke-width="0.9" stroke-linecap="butt"/>
<text x="422.43" y="107.40" font-size="5.8" font-family="'Liberation Sans', Arial, sans-serif" fill="#111" text-anchor="middle" font-weight="bold" textLength="3.20" lengthAdjust="spacingAndGlyphs" >1</text>
<line x1="437.06" y1="99.50" x2="437.06" y2="102.30" stroke="#000" stroke-width="0.9" stroke-linecap="butt"/>
<text x="437.06" y="107.40" font-size="5.8" font-family="'Liberation Sans', Arial, sans-serif" fill="#111" text-anchor="middle" font-weight="bold" textLength="3.20" lengthAdjust="spacingAndGlyphs" >2</text>
<line x1="451.69" y1="99.50" x2="451.69" y2="102.30" stroke="#000" stroke-width="0.9" stroke-linecap="butt"/>
<text x="451.69" y="107.40" font-size="5.8" font-family="'Liberation Sans', Arial, sans-serif" fill="#111" text-anchor="middle" font-weight="bold" textLength="3.20" lengthAdjust="spacingAndGlyphs" >3</text>
<line x1="466.32" y1="99.50" x2="466.32" y2="102.30" stroke="#000" stroke-width="0.9" stroke-linecap="butt"/>
<text x="466.32" y="107.40" font-size="5.8" font-family="'Liberation Sans', Arial, sans-serif" fill="#111" text-anchor="middle" font-weight="bold" textLength="3.20" lengthAdjust="spacingAndGlyphs" >4</text>
<line x1="480.95" y1="99.50" x2="480.95" y2="102.30" stroke="#000" stroke-width="0.9" stroke-linecap="butt"/>
<text x="480.95" y="107.40" font-size="5.8" font-family="'Liberation Sans', Arial, sans-serif" fill="#111" text-anchor="middle" font-weight="bold" textLength="3.20" lengthAdjust="spacingAndGlyphs" >5</text>
<line x1="495.58" y1="99.50" x2="495.58" y2="102.30" stroke="#000" stroke-width="0.9" stroke-linecap="butt"/>
<text x="495.58" y="107.40" font-size="5.8" font-family="'Liberation Sans', Arial, sans-serif" fill="#111" text-anchor="middle" font-weight="bold" textLength="3.20" lengthAdjust="spacingAndGlyphs" >6</text>
<line x1="510.21" y1="99.50" x2="510.21" y2="102.30" stroke="#000" stroke-width="0.9" stroke-linecap="butt"/>
<text x="510.21" y="107.40" font-size="5.8" font-family="'Liberation Sans', Arial, sans-serif" fill="#111" text-anchor="middle" font-weight="bold" textLength="3.20" lengthAdjust="spacingAndGlyphs" >7</text>
<text x="462.50" y="115.40" font-size="6.6" font-family="'Liberation Sans', Arial, sans-serif" fill="#000" text-anchor="middle" font-weight="bold" textLength="13.40" lengthAdjust="spacingAndGlyphs" stroke="#000" stroke-width="0.15">days</text>
<text x="396.30" y="83.30" font-size="7.2" font-family="'Liberation Sans', Arial, sans-serif" fill="#000" font-weight="bold" textLength="43.70" lengthAdjust="spacingAndGlyphs" transform="rotate(-90 396.30 83.30)" >%CD4+CD62L-</text>
<text x="307.70" y="132.10" font-size="7.5" font-family="'Liberation Sans', Arial, sans-serif" fill="#000" font-weight="bold" textLength="40.80" lengthAdjust="spacingAndGlyphs" stroke="#000" stroke-width="0.2">CD4+CD44+</text>
<polyline points="287.73,189.50 316.99,195.32 346.25,191.44 375.51,181.97" fill="none" stroke="#333" stroke-width="0.9" stroke-dasharray="2.4 1.6" stroke-linejoin="round"/>
<polyline points="287.73,189.25 316.99,195.08 346.25,191.20 375.51,182.22" fill="none" stroke="#787878" stroke-width="1.1" stroke-linejoin="round"/>
<polyline points="287.73,186.34 316.99,187.56 346.25,165.72 375.51,144.12" fill="none" stroke="#000" stroke-width="1.05" stroke-linejoin="round"/>
<polygon points="285.81,187.96 289.65,187.96 287.73,191.32" fill="#000"/>
<polygon points="315.07,193.79 318.91,193.79 316.99,197.15" fill="#000"/>
<polygon points="344.33,189.90 348.17,189.90 346.25,193.26" fill="#000"/>
<polygon points="373.59,180.44 377.43,180.44 375.51,183.80" fill="#000"/>
<line x1="287.73" y1="188.05" x2="287.73" y2="190.45" stroke="#000" stroke-width="0.8" stroke-linecap="butt"/>
<line x1="285.93" y1="188.05" x2="289.53" y2="188.05" stroke="#000" stroke-width="0.8" stroke-linecap="butt"/>
<line x1="285.93" y1="190.45" x2="289.53" y2="190.45" stroke="#000" stroke-width="0.8" stroke-linecap="butt"/>
<polygon points="285.81,190.79 289.65,190.79 287.73,187.43" fill="#000"/>
<line x1="316.99" y1="193.88" x2="316.99" y2="196.28" stroke="#000" stroke-width="0.8" stroke-linecap="butt"/>
<line x1="315.19" y1="193.88" x2="318.79" y2="193.88" stroke="#000" stroke-width="0.8" stroke-linecap="butt"/>
<line x1="315.19" y1="196.28" x2="318.79" y2="196.28" stroke="#000" stroke-width="0.8" stroke-linecap="butt"/>
<polygon points="315.07,196.61 318.91,196.61 316.99,193.25" fill="#000"/>
<line x1="346.25" y1="189.80" x2="346.25" y2="192.60" stroke="#000" stroke-width="0.8" stroke-linecap="butt"/>
<line x1="344.45" y1="189.80" x2="348.05" y2="189.80" stroke="#000" stroke-width="0.8" stroke-linecap="butt"/>
<line x1="344.45" y1="192.60" x2="348.05" y2="192.60" stroke="#000" stroke-width="0.8" stroke-linecap="butt"/>
<polygon points="344.33,192.73 348.17,192.73 346.25,189.37" fill="#000"/>
<line x1="375.51" y1="180.82" x2="375.51" y2="183.62" stroke="#000" stroke-width="0.8" stroke-linecap="butt"/>
<line x1="373.71" y1="180.82" x2="377.31" y2="180.82" stroke="#000" stroke-width="0.8" stroke-linecap="butt"/>
<line x1="373.71" y1="183.62" x2="377.31" y2="183.62" stroke="#000" stroke-width="0.8" stroke-linecap="butt"/>
<polygon points="373.59,183.75 377.43,183.75 375.51,180.39" fill="#000"/>
<line x1="287.73" y1="184.84" x2="287.73" y2="187.84" stroke="#000" stroke-width="0.8" stroke-linecap="butt"/>
<line x1="285.93" y1="184.84" x2="289.53" y2="184.84" stroke="#000" stroke-width="0.8" stroke-linecap="butt"/>
<line x1="285.93" y1="187.84" x2="289.53" y2="187.84" stroke="#000" stroke-width="0.8" stroke-linecap="butt"/>
<rect x="286.13" y="184.74" width="3.20" height="3.20" fill="#000"/>
<rect x="315.39" y="185.96" width="3.20" height="3.20" fill="#000"/>
<line x1="346.25" y1="162.72" x2="346.25" y2="168.72" stroke="#000" stroke-width="0.8" stroke-linecap="butt"/>
<line x1="344.45" y1="162.72" x2="348.05" y2="162.72" stroke="#000" stroke-width="0.8" stroke-linecap="butt"/>
<line x1="344.45" y1="168.72" x2="348.05" y2="168.72" stroke="#000" stroke-width="0.8" stroke-linecap="butt"/>
<rect x="344.65" y="164.12" width="3.20" height="3.20" fill="#000"/>
<line x1="375.51" y1="139.92" x2="375.51" y2="148.32" stroke="#000" stroke-width="0.8" stroke-linecap="butt"/>
<line x1="373.71" y1="139.92" x2="377.31" y2="139.92" stroke="#000" stroke-width="0.8" stroke-linecap="butt"/>
<line x1="373.71" y1="148.32" x2="377.31" y2="148.32" stroke="#000" stroke-width="0.8" stroke-linecap="butt"/>
<rect x="373.91" y="142.52" width="3.20" height="3.20" fill="#000"/>
<text x="346.75" y="190.51" font-size="6.0" font-family="'Liberation Sans', Arial, sans-serif" fill="#555" text-anchor="middle" >***</text>
<text x="376.01" y="180.51" font-size="6.0" font-family="'Liberation Sans', Arial, sans-serif" fill="#555" text-anchor="middle" >***</text>
<line x1="273.10" y1="131.00" x2="273.10" y2="204.90" stroke="#000" stroke-width="1.35" stroke-linecap="butt"/>
<line x1="272.50" y1="204.30" x2="379.30" y2="204.30" stroke="#000" stroke-width="1.3" stroke-linecap="butt"/>
<line x1="270.40" y1="204.30" x2="273.10" y2="204.30" stroke="#000" stroke-width="0.9" stroke-linecap="butt"/>
<text x="270.20" y="206.40" font-size="5.8" font-family="'Liberation Sans', Arial, sans-serif" fill="#000" text-anchor="end" font-weight="bold" textLength="3.20" lengthAdjust="spacingAndGlyphs" >0</text>
<line x1="270.40" y1="180.03" x2="273.10" y2="180.03" stroke="#000" stroke-width="0.9" stroke-linecap="butt"/>
<text x="270.20" y="182.13" font-size="5.8" font-family="'Liberation Sans', Arial, sans-serif" fill="#000" text-anchor="end" font-weight="bold" textLength="6.40" lengthAdjust="spacingAndGlyphs" >10</text>
<line x1="270.40" y1="155.77" x2="273.10" y2="155.77" stroke="#000" stroke-width="0.9" stroke-linecap="butt"/>
<text x="270.20" y="157.87" font-size="5.8" font-family="'Liberation Sans', Arial, sans-serif" fill="#000" text-anchor="end" font-weight="bold" textLength="6.40" lengthAdjust="spacingAndGlyphs" >20</text>
<line x1="270.40" y1="131.50" x2="273.10" y2="131.50" stroke="#000" stroke-width="0.9" stroke-linecap="butt"/>
<text x="270.20" y="133.60" font-size="5.8" font-family="'Liberation Sans', Arial, sans-serif" fill="#000" text-anchor="end" font-weight="bold" textLength="6.40" lengthAdjust="spacingAndGlyphs" >30</text>
<line x1="273.10" y1="204.30" x2="273.10" y2="207.10" stroke="#000" stroke-width="0.9" stroke-linecap="butt"/>
<text x="273.10" y="211.40" font-size="5.8" font-family="'Liberation Sans', Arial, sans-serif" fill="#111" text-anchor="middle" font-weight="bold" textLength="3.20" lengthAdjust="spacingAndGlyphs" >0</text>
<line x1="287.73" y1="204.30" x2="287.73" y2="207.10" stroke="#000" stroke-width="0.9" stroke-linecap="butt"/>
<text x="287.73" y="211.40" font-size="5.8" font-family="'Liberation Sans', Arial, sans-serif" fill="#111" text-anchor="middle" font-weight="bold" textLength="3.20" lengthAdjust="spacingAndGlyphs" >1</text>
<line x1="302.36" y1="204.30" x2="302.36" y2="207.10" stroke="#000" stroke-width="0.9" stroke-linecap="butt"/>
<text x="302.36" y="211.40" font-size="5.8" font-family="'Liberation Sans', Arial, sans-serif" fill="#111" text-anchor="middle" font-weight="bold" textLength="3.20" lengthAdjust="spacingAndGlyphs" >2</text>
<line x1="316.99" y1="204.30" x2="316.99" y2="207.10" stroke="#000" stroke-width="0.9" stroke-linecap="butt"/>
<text x="316.99" y="211.40" font-size="5.8" font-family="'Liberation Sans', Arial, sans-serif" fill="#111" text-anchor="middle" font-weight="bold" textLength="3.20" lengthAdjust="spacingAndGlyphs" >3</text>
<line x1="331.62" y1="204.30" x2="331.62" y2="207.10" stroke="#000" stroke-width="0.9" stroke-linecap="butt"/>
<text x="331.62" y="211.40" font-size="5.8" font-family="'Liberation Sans', Arial, sans-serif" fill="#111" text-anchor="middle" font-weight="bold" textLength="3.20" lengthAdjust="spacingAndGlyphs" >4</text>
<line x1="346.25" y1="204.30" x2="346.25" y2="207.10" stroke="#000" stroke-width="0.9" stroke-linecap="butt"/>
<text x="346.25" y="211.40" font-size="5.8" font-family="'Liberation Sans', Arial, sans-serif" fill="#111" text-anchor="middle" font-weight="bold" textLength="3.20" lengthAdjust="spacingAndGlyphs" >5</text>
<line x1="360.88" y1="204.30" x2="360.88" y2="207.10" stroke="#000" stroke-width="0.9" stroke-linecap="butt"/>
<text x="360.88" y="211.40" font-size="5.8" font-family="'Liberation Sans', Arial, sans-serif" fill="#111" text-anchor="middle" font-weight="bold" textLength="3.20" lengthAdjust="spacingAndGlyphs" >6</text>
<line x1="375.51" y1="204.30" x2="375.51" y2="207.10" stroke="#000" stroke-width="0.9" stroke-linecap="butt"/>
<text x="375.51" y="211.40" font-size="5.8" font-family="'Liberation Sans', Arial, sans-serif" fill="#111" text-anchor="middle" font-weight="bold" textLength="3.20" lengthAdjust="spacingAndGlyphs" >7</text>
<text x="327.70" y="220.40" font-size="6.6" font-family="'Liberation Sans', Arial, sans-serif" fill="#000" text-anchor="middle" font-weight="bold" textLength="13.40" lengthAdjust="spacingAndGlyphs" stroke="#000" stroke-width="0.15">days</text>
<text x="261.10" y="188.10" font-size="7.2" font-family="'Liberation Sans', Arial, sans-serif" fill="#000" font-weight="bold" textLength="38.00" lengthAdjust="spacingAndGlyphs" transform="rotate(-90 261.10 188.10)" >%CD4+CD44+</text>
<text x="441.60" y="134.00" font-size="7.5" font-family="'Liberation Sans', Arial, sans-serif" fill="#000" font-weight="bold" textLength="43.90" lengthAdjust="spacingAndGlyphs" stroke="#000" stroke-width="0.2">CD4+CD122+</text>
<polyline points="423.58,192.01 452.94,188.71 482.30,191.27 511.66,192.56" fill="none" stroke="#333" stroke-width="0.9" stroke-dasharray="2.4 1.6" stroke-linejoin="round"/>
<polyline points="423.58,192.56 452.94,183.94 482.30,191.27 511.66,192.56" fill="none" stroke="#787878" stroke-width="1.1" stroke-linejoin="round"/>
<polyline points="423.58,191.27 452.94,189.44 482.30,150.96 511.66,161.22" fill="none" stroke="#000" stroke-width="1.05" stroke-linejoin="round"/>
<polygon points="421.66,190.47 425.50,190.47 423.58,193.83" fill="#000"/>
<polygon points="451.02,187.17 454.86,187.17 452.94,190.53" fill="#000"/>
<polygon points="480.38,189.74 484.22,189.74 482.30,193.10" fill="#000"/>
<polygon points="509.74,191.02 513.58,191.02 511.66,194.38" fill="#000"/>
<polygon points="421.66,194.09 425.50,194.09 423.58,190.73" fill="#000"/>
<polygon points="451.02,185.48 454.86,185.48 452.94,182.12" fill="#000"/>
<polygon points="480.38,192.81 484.22,192.81 482.30,189.45" fill="#000"/>
<polygon points="509.74,194.09 513.58,194.09 511.66,190.73" fill="#000"/>
<line x1="423.58" y1="189.47" x2="423.58" y2="193.07" stroke="#000" stroke-width="0.8" stroke-linecap="butt"/>
<line x1="421.78" y1="189.47" x2="425.38" y2="189.47" stroke="#000" stroke-width="0.8" stroke-linecap="butt"/>
<line x1="421.78" y1="193.07" x2="425.38" y2="193.07" stroke="#000" stroke-width="0.8" stroke-linecap="butt"/>
<rect x="421.98" y="189.67" width="3.20" height="3.20" fill="#000"/>
<rect x="451.34" y="187.84" width="3.20" height="3.20" fill="#000"/>
<line x1="482.30" y1="150.16" x2="482.30" y2="151.76" stroke="#000" stroke-width="0.8" stroke-linecap="butt"/>
<line x1="480.50" y1="150.16" x2="484.10" y2="150.16" stroke="#000" stroke-width="0.8" stroke-linecap="butt"/>
<line x1="480.50" y1="151.76" x2="484.10" y2="151.76" stroke="#000" stroke-width="0.8" stroke-linecap="butt"/>
<rect x="480.70" y="149.36" width="3.20" height="3.20" fill="#000"/>
<line x1="511.66" y1="158.22" x2="511.66" y2="164.22" stroke="#000" stroke-width="0.8" stroke-linecap="butt"/>
<line x1="509.86" y1="158.22" x2="513.46" y2="158.22" stroke="#000" stroke-width="0.8" stroke-linecap="butt"/>
<line x1="509.86" y1="164.22" x2="513.46" y2="164.22" stroke="#000" stroke-width="0.8" stroke-linecap="butt"/>
<rect x="510.06" y="159.62" width="3.20" height="3.20" fill="#000"/>
<text x="482.80" y="189.26" font-size="6.0" font-family="'Liberation Sans', Arial, sans-serif" fill="#555" text-anchor="middle" >***</text>
<text x="512.16" y="191.01" font-size="6.0" font-family="'Liberation Sans', Arial, sans-serif" fill="#555" text-anchor="middle" >***</text>
<line x1="408.90" y1="132.50" x2="408.90" y2="206.90" stroke="#000" stroke-width="1.35" stroke-linecap="butt"/>
<line x1="408.30" y1="206.30" x2="515.50" y2="206.30" stroke="#000" stroke-width="1.3" stroke-linecap="butt"/>
<line x1="406.20" y1="206.30" x2="408.90" y2="206.30" stroke="#000" stroke-width="0.9" stroke-linecap="butt"/>
<text x="406.00" y="208.40" font-size="5.8" font-family="'Liberation Sans', Arial, sans-serif" fill="#000" text-anchor="end" font-weight="bold" textLength="3.20" lengthAdjust="spacingAndGlyphs" >0</text>
<line x1="406.20" y1="187.98" x2="408.90" y2="187.98" stroke="#000" stroke-width="0.9" stroke-linecap="butt"/>
<text x="406.00" y="190.08" font-size="5.8" font-family="'Liberation Sans', Arial, sans-serif" fill="#000" text-anchor="end" font-weight="bold" textLength="3.20" lengthAdjust="spacingAndGlyphs" >5</text>
<line x1="406.20" y1="169.65" x2="408.90" y2="169.65" stroke="#000" stroke-width="0.9" stroke-linecap="butt"/>
<text x="406.00" y="171.75" font-size="5.8" font-family="'Liberation Sans', Arial, sans-serif" fill="#000" text-anchor="end" font-weight="bold" textLength="6.40" lengthAdjust="spacingAndGlyphs" >10</text>
<line x1="406.20" y1="151.32" x2="408.90" y2="151.32" stroke="#000" stroke-width="0.9" stroke-linecap="butt"/>
<text x="406.00" y="153.42" font-size="5.8" font-family="'Liberation Sans', Arial, sans-serif" fill="#000" text-anchor="end" font-weight="bold" textLength="6.40" lengthAdjust="spacingAndGlyphs" >15</text>
<line x1="406.20" y1="133.00" x2="408.90" y2="133.00" stroke="#000" stroke-width="0.9" stroke-linecap="butt"/>
<text x="406.00" y="135.10" font-size="5.8" font-family="'Liberation Sans', Arial, sans-serif" fill="#000" text-anchor="end" font-weight="bold" textLength="6.40" lengthAdjust="spacingAndGlyphs" >20</text>
<line x1="408.90" y1="206.30" x2="408.90" y2="209.10" stroke="#000" stroke-width="0.9" stroke-linecap="butt"/>
<text x="408.90" y="213.50" font-size="5.8" font-family="'Liberation Sans', Arial, sans-serif" fill="#111" text-anchor="middle" font-weight="bold" textLength="3.20" lengthAdjust="spacingAndGlyphs" >0</text>
<line x1="423.58" y1="206.30" x2="423.58" y2="209.10" stroke="#000" stroke-width="0.9" stroke-linecap="butt"/>
<text x="423.58" y="213.50" font-size="5.8" font-family="'Liberation Sans', Arial, sans-serif" fill="#111" text-anchor="middle" font-weight="bold" textLength="3.20" lengthAdjust="spacingAndGlyphs" >1</text>
<line x1="438.26" y1="206.30" x2="438.26" y2="209.10" stroke="#000" stroke-width="0.9" stroke-linecap="butt"/>
<text x="438.26" y="213.50" font-size="5.8" font-family="'Liberation Sans', Arial, sans-serif" fill="#111" text-anchor="middle" font-weight="bold" textLength="3.20" lengthAdjust="spacingAndGlyphs" >2</text>
<line x1="452.94" y1="206.30" x2="452.94" y2="209.10" stroke="#000" stroke-width="0.9" stroke-linecap="butt"/>
<text x="452.94" y="213.50" font-size="5.8" font-family="'Liberation Sans', Arial, sans-serif" fill="#111" text-anchor="middle" font-weight="bold" textLength="3.20" lengthAdjust="spacingAndGlyphs" >3</text>
<line x1="467.62" y1="206.30" x2="467.62" y2="209.10" stroke="#000" stroke-width="0.9" stroke-linecap="butt"/>
<text x="467.62" y="213.50" font-size="5.8" font-family="'Liberation Sans', Arial, sans-serif" fill="#111" text-anchor="middle" font-weight="bold" textLength="3.20" lengthAdjust="spacingAndGlyphs" >4</text>
<line x1="482.30" y1="206.30" x2="482.30" y2="209.10" stroke="#000" stroke-width="0.9" stroke-linecap="butt"/>
<text x="482.30" y="213.50" font-size="5.8" font-family="'Liberation Sans', Arial, sans-serif" fill="#111" text-anchor="middle" font-weight="bold" textLength="3.20" lengthAdjust="spacingAndGlyphs" >5</text>
<line x1="496.98" y1="206.30" x2="496.98" y2="209.10" stroke="#000" stroke-width="0.9" stroke-linecap="butt"/>
<text x="496.98" y="213.50" font-size="5.8" font-family="'Liberation Sans', Arial, sans-serif" fill="#111" text-anchor="middle" font-weight="bold" textLength="3.20" lengthAdjust="spacingAndGlyphs" >6</text>
<line x1="511.66" y1="206.30" x2="511.66" y2="209.10" stroke="#000" stroke-width="0.9" stroke-linecap="butt"/>
<text x="511.66" y="213.50" font-size="5.8" font-family="'Liberation Sans', Arial, sans-serif" fill="#111" text-anchor="middle" font-weight="bold" textLength="3.20" lengthAdjust="spacingAndGlyphs" >7</text>
<text x="464.00" y="222.50" font-size="6.6" font-family="'Liberation Sans', Arial, sans-serif" fill="#000" text-anchor="middle" font-weight="bold" textLength="13.40" lengthAdjust="spacingAndGlyphs" stroke="#000" stroke-width="0.15">days</text>
<text x="397.30" y="192.05" font-size="7.2" font-family="'Liberation Sans', Arial, sans-serif" fill="#000" font-weight="bold" textLength="44.65" lengthAdjust="spacingAndGlyphs" transform="rotate(-90 397.30 192.05)" >%CD4+CD122+</text>
<text x="304.00" y="250.30" font-size="7.5" font-family="'Liberation Sans', Arial, sans-serif" fill="#000" font-weight="bold" textLength="41.00" lengthAdjust="spacingAndGlyphs" stroke="#000" stroke-width="0.2">CD8+CD25+</text>
<polyline points="284.02,312.47 313.26,306.38 342.50,300.57 371.74,306.09" fill="none" stroke="#333" stroke-width="0.9" stroke-dasharray="2.4 1.6" stroke-linejoin="round"/>
<polyline points="284.02,312.47 313.26,306.09 342.50,296.21 371.74,298.54" fill="none" stroke="#787878" stroke-width="1.1" stroke-linejoin="round"/>
<polyline points="284.02,312.47 313.26,293.89 342.50,277.92 371.74,266.59" fill="none" stroke="#000" stroke-width="1.05" stroke-linejoin="round"/>
<polygon points="282.10,310.94 285.94,310.94 284.02,314.30" fill="#000"/>
<polygon points="311.34,304.84 315.18,304.84 313.26,308.20" fill="#000"/>
<line x1="342.50" y1="298.17" x2="342.50" y2="302.97" stroke="#000" stroke-width="0.8" stroke-linecap="butt"/>
<line x1="340.70" y1="298.17" x2="344.30" y2="298.17" stroke="#000" stroke-width="0.8" stroke-linecap="butt"/>
<line x1="340.70" y1="302.97" x2="344.30" y2="302.97" stroke="#000" stroke-width="0.8" stroke-linecap="butt"/>
<polygon points="340.58,299.03 344.42,299.03 342.50,302.39" fill="#000"/>
<polygon points="369.82,304.55 373.66,304.55 371.74,307.91" fill="#000"/>
<polygon points="282.10,314.01 285.94,314.01 284.02,310.65" fill="#000"/>
<polygon points="311.34,307.62 315.18,307.62 313.26,304.26" fill="#000"/>
<line x1="342.50" y1="292.81" x2="342.50" y2="299.61" stroke="#000" stroke-width="0.8" stroke-linecap="butt"/>
<line x1="340.70" y1="292.81" x2="344.30" y2="292.81" stroke="#000" stroke-width="0.8" stroke-linecap="butt"/>
<line x1="340.70" y1="299.61" x2="344.30" y2="299.61" stroke="#000" stroke-width="0.8" stroke-linecap="butt"/>
<polygon points="340.58,297.75 344.42,297.75 342.50,294.39" fill="#000"/>
<line x1="371.74" y1="296.14" x2="371.74" y2="300.94" stroke="#000" stroke-width="0.8" stroke-linecap="butt"/>
<line x1="369.94" y1="296.14" x2="373.54" y2="296.14" stroke="#000" stroke-width="0.8" stroke-linecap="butt"/>
<line x1="369.94" y1="300.94" x2="373.54" y2="300.94" stroke="#000" stroke-width="0.8" stroke-linecap="butt"/>
<polygon points="369.82,300.07 373.66,300.07 371.74,296.71" fill="#000"/>
<line x1="284.02" y1="310.67" x2="284.02" y2="314.27" stroke="#000" stroke-width="0.8" stroke-linecap="butt"/>
<line x1="282.22" y1="310.67" x2="285.82" y2="310.67" stroke="#000" stroke-width="0.8" stroke-linecap="butt"/>
<line x1="282.22" y1="314.27" x2="285.82" y2="314.27" stroke="#000" stroke-width="0.8" stroke-linecap="butt"/>
<rect x="282.42" y="310.87" width="3.20" height="3.20" fill="#000"/>
<rect x="311.66" y="292.29" width="3.20" height="3.20" fill="#000"/>
<rect x="340.90" y="276.32" width="3.20" height="3.20" fill="#000"/>
<line x1="371.74" y1="264.39" x2="371.74" y2="268.79" stroke="#000" stroke-width="0.8" stroke-linecap="butt"/>
<line x1="369.94" y1="264.39" x2="373.54" y2="264.39" stroke="#000" stroke-width="0.8" stroke-linecap="butt"/>
<line x1="369.94" y1="268.79" x2="373.54" y2="268.79" stroke="#000" stroke-width="0.8" stroke-linecap="butt"/>
<rect x="370.14" y="264.99" width="3.20" height="3.20" fill="#000"/>
<text x="313.76" y="306.01" font-size="6.0" font-family="'Liberation Sans', Arial, sans-serif" fill="#555" text-anchor="middle" >***</text>
<text x="343.00" y="294.01" font-size="6.0" font-family="'Liberation Sans', Arial, sans-serif" fill="#555" text-anchor="middle" >***</text>
<text x="372.24" y="296.01" font-size="6.0" font-family="'Liberation Sans', Arial, sans-serif" fill="#555" text-anchor="middle" >***</text>
<line x1="269.40" y1="250.70" x2="269.40" y2="324.40" stroke="#000" stroke-width="1.35" stroke-linecap="butt"/>
<line x1="268.80" y1="323.80" x2="375.50" y2="323.80" stroke="#000" stroke-width="1.3" stroke-linecap="butt"/>
<line x1="266.70" y1="323.80" x2="269.40" y2="323.80" stroke="#000" stroke-width="0.9" stroke-linecap="butt"/>
<text x="266.50" y="325.90" font-size="5.8" font-family="'Liberation Sans', Arial, sans-serif" fill="#000" text-anchor="end" font-weight="bold" textLength="3.20" lengthAdjust="spacingAndGlyphs" >0</text>
<line x1="266.70" y1="309.28" x2="269.40" y2="309.28" stroke="#000" stroke-width="0.9" stroke-linecap="butt"/>
<text x="266.50" y="311.38" font-size="5.8" font-family="'Liberation Sans', Arial, sans-serif" fill="#000" text-anchor="end" font-weight="bold" textLength="3.20" lengthAdjust="spacingAndGlyphs" >5</text>
<line x1="266.70" y1="294.76" x2="269.40" y2="294.76" stroke="#000" stroke-width="0.9" stroke-linecap="butt"/>
<text x="266.50" y="296.86" font-size="5.8" font-family="'Liberation Sans', Arial, sans-serif" fill="#000" text-anchor="end" font-weight="bold" textLength="6.40" lengthAdjust="spacingAndGlyphs" >10</text>
<line x1="266.70" y1="280.24" x2="269.40" y2="280.24" stroke="#000" stroke-width="0.9" stroke-linecap="butt"/>
<text x="266.50" y="282.34" font-size="5.8" font-family="'Liberation Sans', Arial, sans-serif" fill="#000" text-anchor="end" font-weight="bold" textLength="6.40" lengthAdjust="spacingAndGlyphs" >15</text>
<line x1="266.70" y1="265.72" x2="269.40" y2="265.72" stroke="#000" stroke-width="0.9" stroke-linecap="butt"/>
<text x="266.50" y="267.82" font-size="5.8" font-family="'Liberation Sans', Arial, sans-serif" fill="#000" text-anchor="end" font-weight="bold" textLength="6.40" lengthAdjust="spacingAndGlyphs" >20</text>
<line x1="266.70" y1="251.20" x2="269.40" y2="251.20" stroke="#000" stroke-width="0.9" stroke-linecap="butt"/>
<text x="266.50" y="253.30" font-size="5.8" font-family="'Liberation Sans', Arial, sans-serif" fill="#000" text-anchor="end" font-weight="bold" textLength="6.40" lengthAdjust="spacingAndGlyphs" >25</text>
<line x1="269.40" y1="323.80" x2="269.40" y2="326.60" stroke="#000" stroke-width="0.9" stroke-linecap="butt"/>
<text x="269.40" y="332.00" font-size="5.8" font-family="'Liberation Sans', Arial, sans-serif" fill="#111" text-anchor="middle" font-weight="bold" textLength="3.20" lengthAdjust="spacingAndGlyphs" >0</text>
<line x1="284.02" y1="323.80" x2="284.02" y2="326.60" stroke="#000" stroke-width="0.9" stroke-linecap="butt"/>
<text x="284.02" y="332.00" font-size="5.8" font-family="'Liberation Sans', Arial, sans-serif" fill="#111" text-anchor="middle" font-weight="bold" textLength="3.20" lengthAdjust="spacingAndGlyphs" >1</text>
<line x1="298.64" y1="323.80" x2="298.64" y2="326.60" stroke="#000" stroke-width="0.9" stroke-linecap="butt"/>
<text x="298.64" y="332.00" font-size="5.8" font-family="'Liberation Sans', Arial, sans-serif" fill="#111" text-anchor="middle" font-weight="bold" textLength="3.20" lengthAdjust="spacingAndGlyphs" >2</text>
<line x1="313.26" y1="323.80" x2="313.26" y2="326.60" stroke="#000" stroke-width="0.9" stroke-linecap="butt"/>
<text x="313.26" y="332.00" font-size="5.8" font-family="'Liberation Sans', Arial, sans-serif" fill="#111" text-anchor="middle" font-weight="bold" textLength="3.20" lengthAdjust="spacingAndGlyphs" >3</text>
<line x1="327.88" y1="323.80" x2="327.88" y2="326.60" stroke="#000" stroke-width="0.9" stroke-linecap="butt"/>
<text x="327.88" y="332.00" font-size="5.8" font-family="'Liberation Sans', Arial, sans-serif" fill="#111" text-anchor="middle" font-weight="bold" textLength="3.20" lengthAdjust="spacingAndGlyphs" >4</text>
<line x1="342.50" y1="323.80" x2="342.50" y2="326.60" stroke="#000" stroke-width="0.9" stroke-linecap="butt"/>
<text x="342.50" y="332.00" font-size="5.8" font-family="'Liberation Sans', Arial, sans-serif" fill="#111" text-anchor="middle" font-weight="bold" textLength="3.20" lengthAdjust="spacingAndGlyphs" >5</text>
<line x1="357.12" y1="323.80" x2="357.12" y2="326.60" stroke="#000" stroke-width="0.9" stroke-linecap="butt"/>
<text x="357.12" y="332.00" font-size="5.8" font-family="'Liberation Sans', Arial, sans-serif" fill="#111" text-anchor="middle" font-weight="bold" textLength="3.20" lengthAdjust="spacingAndGlyphs" >6</text>
<line x1="371.74" y1="323.80" x2="371.74" y2="326.60" stroke="#000" stroke-width="0.9" stroke-linecap="butt"/>
<text x="371.74" y="332.00" font-size="5.8" font-family="'Liberation Sans', Arial, sans-serif" fill="#111" text-anchor="middle" font-weight="bold" textLength="3.20" lengthAdjust="spacingAndGlyphs" >7</text>
<text x="324.40" y="340.40" font-size="6.6" font-family="'Liberation Sans', Arial, sans-serif" fill="#000" text-anchor="middle" font-weight="bold" textLength="13.40" lengthAdjust="spacingAndGlyphs" stroke="#000" stroke-width="0.15">days</text>
<text x="256.80" y="307.80" font-size="7.2" font-family="'Liberation Sans', Arial, sans-serif" fill="#000" font-weight="bold" textLength="42.70" lengthAdjust="spacingAndGlyphs" transform="rotate(-90 256.80 307.80)" >%CD8+CD25+</text>
<line x1="273.75" y1="268.00" x2="283.75" y2="268.00" stroke="#000" stroke-width="1.2" stroke-linecap="butt"/>
<rect x="277.15" y="266.40" width="3.20" height="3.20" fill="#000"/>
<text x="285.40" y="270.20" font-size="6.3" font-family="'Liberation Sans', Arial, sans-serif" fill="#111" textLength="17.50" lengthAdjust="spacingAndGlyphs" >control</text>
<line x1="273.75" y1="276.30" x2="283.75" y2="276.30" stroke="#787878" stroke-width="1.1" stroke-linecap="butt"/>
<polygon points="276.83,277.84 280.67,277.84 278.75,274.48" fill="#000"/>
<text x="285.40" y="278.50" font-size="6.3" font-family="'Liberation Sans', Arial, sans-serif" fill="#111" textLength="30.40" lengthAdjust="spacingAndGlyphs" >MAPC 1:10</text>
<line x1="273.75" y1="284.80" x2="283.75" y2="284.80" stroke="#333" stroke-width="0.9" stroke-dasharray="2.4 1.6" stroke-linecap="butt"/>
<polygon points="276.83,283.26 280.67,283.26 278.75,286.62" fill="#000"/>
<text x="285.40" y="287.00" font-size="6.3" font-family="'Liberation Sans', Arial, sans-serif" fill="#111" textLength="33.90" lengthAdjust="spacingAndGlyphs" >MAPC 1:100</text>
<text x="438.25" y="257.00" font-size="7.5" font-family="'Liberation Sans', Arial, sans-serif" fill="#000" font-weight="bold" textLength="43.15" lengthAdjust="spacingAndGlyphs" stroke="#000" stroke-width="0.2">CD8+CD62L-</text>
<polyline points="419.52,319.36 448.76,318.22 478.00,308.38 507.24,305.69" fill="none" stroke="#333" stroke-width="0.9" stroke-dasharray="2.4 1.6" stroke-linejoin="round"/>
<polyline points="419.52,319.36 448.76,318.22 478.00,312.11 507.24,310.14" fill="none" stroke="#787878" stroke-width="1.1" stroke-linejoin="round"/>
<polyline points="419.52,319.36 448.76,301.44 478.00,275.96 507.24,262.19" fill="none" stroke="#000" stroke-width="1.05" stroke-linejoin="round"/>
<polygon points="417.24,317.54 421.80,317.54 419.52,321.53" fill="#000"/>
<polygon points="446.48,316.40 451.04,316.40 448.76,320.39" fill="#000"/>
<line x1="478.00" y1="306.78" x2="478.00" y2="309.98" stroke="#000" stroke-width="0.8" stroke-linecap="butt"/>
<line x1="476.20" y1="306.78" x2="479.80" y2="306.78" stroke="#000" stroke-width="0.8" stroke-linecap="butt"/>
<line x1="476.20" y1="309.98" x2="479.80" y2="309.98" stroke="#000" stroke-width="0.8" stroke-linecap="butt"/>
<polygon points="475.72,306.56 480.28,306.56 478.00,310.55" fill="#000"/>
<line x1="507.24" y1="303.09" x2="507.24" y2="308.29" stroke="#000" stroke-width="0.8" stroke-linecap="butt"/>
<line x1="505.44" y1="303.09" x2="509.04" y2="303.09" stroke="#000" stroke-width="0.8" stroke-linecap="butt"/>
<line x1="505.44" y1="308.29" x2="509.04" y2="308.29" stroke="#000" stroke-width="0.8" stroke-linecap="butt"/>
<polygon points="504.96,303.87 509.52,303.87 507.24,307.86" fill="#000"/>
<polygon points="417.24,321.18 421.80,321.18 419.52,317.19" fill="#000"/>
<polygon points="446.48,320.05 451.04,320.05 448.76,316.06" fill="#000"/>
<line x1="478.00" y1="311.11" x2="478.00" y2="313.11" stroke="#000" stroke-width="0.8" stroke-linecap="butt"/>
<line x1="476.20" y1="311.11" x2="479.80" y2="311.11" stroke="#000" stroke-width="0.8" stroke-linecap="butt"/>
<line x1="476.20" y1="313.11" x2="479.80" y2="313.11" stroke="#000" stroke-width="0.8" stroke-linecap="butt"/>
<polygon points="475.72,313.93 480.28,313.93 478.00,309.94" fill="#000"/>
<line x1="507.24" y1="307.94" x2="507.24" y2="312.34" stroke="#000" stroke-width="0.8" stroke-linecap="butt"/>
<line x1="505.44" y1="307.94" x2="509.04" y2="307.94" stroke="#000" stroke-width="0.8" stroke-linecap="butt"/>
<line x1="505.44" y1="312.34" x2="509.04" y2="312.34" stroke="#000" stroke-width="0.8" stroke-linecap="butt"/>
<polygon points="504.96,311.97 509.52,311.97 507.24,307.98" fill="#000"/>
<rect x="417.62" y="317.46" width="3.80" height="3.80" fill="#000"/>
<rect x="446.86" y="299.54" width="3.80" height="3.80" fill="#000"/>
<rect x="476.10" y="274.06" width="3.80" height="3.80" fill="#000"/>
<rect x="505.34" y="260.29" width="3.80" height="3.80" fill="#000"/>
<text x="449.26" y="318.01" font-size="6.0" font-family="'Liberation Sans', Arial, sans-serif" fill="#555" text-anchor="middle" >***</text>
<text x="478.50" y="308.01" font-size="6.0" font-family="'Liberation Sans', Arial, sans-serif" fill="#555" text-anchor="middle" >***</text>
<text x="507.74" y="304.26" font-size="6.0" font-family="'Liberation Sans', Arial, sans-serif" fill="#555" text-anchor="middle" >***</text>
<line x1="404.90" y1="250.40" x2="404.90" y2="324.00" stroke="#000" stroke-width="1.35" stroke-linecap="butt"/>
<line x1="404.30" y1="323.40" x2="510.50" y2="323.40" stroke="#000" stroke-width="1.3" stroke-linecap="butt"/>
<line x1="402.20" y1="323.40" x2="404.90" y2="323.40" stroke="#000" stroke-width="0.9" stroke-linecap="butt"/>
<text x="402.00" y="325.50" font-size="5.8" font-family="'Liberation Sans', Arial, sans-serif" fill="#000" text-anchor="end" font-weight="bold" textLength="3.20" lengthAdjust="spacingAndGlyphs" >0</text>
<line x1="402.20" y1="313.04" x2="404.90" y2="313.04" stroke="#000" stroke-width="0.9" stroke-linecap="butt"/>
<text x="402.00" y="315.14" font-size="5.8" font-family="'Liberation Sans', Arial, sans-serif" fill="#000" text-anchor="end" font-weight="bold" textLength="6.40" lengthAdjust="spacingAndGlyphs" >10</text>
<line x1="402.20" y1="302.69" x2="404.90" y2="302.69" stroke="#000" stroke-width="0.9" stroke-linecap="butt"/>
<text x="402.00" y="304.79" font-size="5.8" font-family="'Liberation Sans', Arial, sans-serif" fill="#000" text-anchor="end" font-weight="bold" textLength="6.40" lengthAdjust="spacingAndGlyphs" >20</text>
<line x1="402.20" y1="292.33" x2="404.90" y2="292.33" stroke="#000" stroke-width="0.9" stroke-linecap="butt"/>
<text x="402.00" y="294.43" font-size="5.8" font-family="'Liberation Sans', Arial, sans-serif" fill="#000" text-anchor="end" font-weight="bold" textLength="6.40" lengthAdjust="spacingAndGlyphs" >30</text>
<line x1="402.20" y1="281.97" x2="404.90" y2="281.97" stroke="#000" stroke-width="0.9" stroke-linecap="butt"/>
<text x="402.00" y="284.07" font-size="5.8" font-family="'Liberation Sans', Arial, sans-serif" fill="#000" text-anchor="end" font-weight="bold" textLength="6.40" lengthAdjust="spacingAndGlyphs" >40</text>
<line x1="402.20" y1="271.61" x2="404.90" y2="271.61" stroke="#000" stroke-width="0.9" stroke-linecap="butt"/>
<text x="402.00" y="273.71" font-size="5.8" font-family="'Liberation Sans', Arial, sans-serif" fill="#000" text-anchor="end" font-weight="bold" textLength="6.40" lengthAdjust="spacingAndGlyphs" >50</text>
<line x1="402.20" y1="261.26" x2="404.90" y2="261.26" stroke="#000" stroke-width="0.9" stroke-linecap="butt"/>
<text x="402.00" y="263.36" font-size="5.8" font-family="'Liberation Sans', Arial, sans-serif" fill="#000" text-anchor="end" font-weight="bold" textLength="6.40" lengthAdjust="spacingAndGlyphs" >60</text>
<line x1="402.20" y1="250.90" x2="404.90" y2="250.90" stroke="#000" stroke-width="0.9" stroke-linecap="butt"/>
<text x="402.00" y="253.00" font-size="5.8" font-family="'Liberation Sans', Arial, sans-serif" fill="#000" text-anchor="end" font-weight="bold" textLength="6.40" lengthAdjust="spacingAndGlyphs" >70</text>
<line x1="404.90" y1="323.40" x2="404.90" y2="326.20" stroke="#000" stroke-width="0.9" stroke-linecap="butt"/>
<text x="404.90" y="331.40" font-size="5.8" font-family="'Liberation Sans', Arial, sans-serif" fill="#111" text-anchor="middle" font-weight="bold" textLength="3.20" lengthAdjust="spacingAndGlyphs" >0</text>
<line x1="419.52" y1="323.40" x2="419.52" y2="326.20" stroke="#000" stroke-width="0.9" stroke-linecap="butt"/>
<text x="419.52" y="331.40" font-size="5.8" font-family="'Liberation Sans', Arial, sans-serif" fill="#111" text-anchor="middle" font-weight="bold" textLength="3.20" lengthAdjust="spacingAndGlyphs" >1</text>
<line x1="434.14" y1="323.40" x2="434.14" y2="326.20" stroke="#000" stroke-width="0.9" stroke-linecap="butt"/>
<text x="434.14" y="331.40" font-size="5.8" font-family="'Liberation Sans', Arial, sans-serif" fill="#111" text-anchor="middle" font-weight="bold" textLength="3.20" lengthAdjust="spacingAndGlyphs" >2</text>
<line x1="448.76" y1="323.40" x2="448.76" y2="326.20" stroke="#000" stroke-width="0.9" stroke-linecap="butt"/>
<text x="448.76" y="331.40" font-size="5.8" font-family="'Liberation Sans', Arial, sans-serif" fill="#111" text-anchor="middle" font-weight="bold" textLength="3.20" lengthAdjust="spacingAndGlyphs" >3</text>
<line x1="463.38" y1="323.40" x2="463.38" y2="326.20" stroke="#000" stroke-width="0.9" stroke-linecap="butt"/>
<text x="463.38" y="331.40" font-size="5.8" font-family="'Liberation Sans', Arial, sans-serif" fill="#111" text-anchor="middle" font-weight="bold" textLength="3.20" lengthAdjust="spacingAndGlyphs" >4</text>
<line x1="478.00" y1="323.40" x2="478.00" y2="326.20" stroke="#000" stroke-width="0.9" stroke-linecap="butt"/>
<text x="478.00" y="331.40" font-size="5.8" font-family="'Liberation Sans', Arial, sans-serif" fill="#111" text-anchor="middle" font-weight="bold" textLength="3.20" lengthAdjust="spacingAndGlyphs" >5</text>
<line x1="492.62" y1="323.40" x2="492.62" y2="326.20" stroke="#000" stroke-width="0.9" stroke-linecap="butt"/>
<text x="492.62" y="331.40" font-size="5.8" font-family="'Liberation Sans', Arial, sans-serif" fill="#111" text-anchor="middle" font-weight="bold" textLength="3.20" lengthAdjust="spacingAndGlyphs" >6</text>
<line x1="507.24" y1="323.40" x2="507.24" y2="326.20" stroke="#000" stroke-width="0.9" stroke-linecap="butt"/>
<text x="507.24" y="331.40" font-size="5.8" font-family="'Liberation Sans', Arial, sans-serif" fill="#111" text-anchor="middle" font-weight="bold" textLength="3.20" lengthAdjust="spacingAndGlyphs" >7</text>
<text x="460.10" y="340.00" font-size="6.6" font-family="'Liberation Sans', Arial, sans-serif" fill="#000" text-anchor="middle" font-weight="bold" textLength="13.40" lengthAdjust="spacingAndGlyphs" stroke="#000" stroke-width="0.15">days</text>
<text x="393.80" y="307.30" font-size="7.2" font-family="'Liberation Sans', Arial, sans-serif" fill="#000" font-weight="bold" textLength="44.20" lengthAdjust="spacingAndGlyphs" transform="rotate(-90 393.80 307.30)" >%CD8+CD62L-</text>
<text x="304.00" y="362.00" font-size="7.5" font-family="'Liberation Sans', Arial, sans-serif" fill="#000" font-weight="bold" textLength="41.00" lengthAdjust="spacingAndGlyphs" stroke="#000" stroke-width="0.2">CD8+CD44+</text>
<polyline points="284.02,421.85 313.26,418.96 342.50,402.59 371.74,405.19" fill="none" stroke="#333" stroke-width="0.9" stroke-dasharray="2.4 1.6" stroke-linejoin="round"/>
<polyline points="284.02,421.85 313.26,418.77 342.50,402.50 371.74,400.00" fill="none" stroke="#787878" stroke-width="1.1" stroke-linejoin="round"/>
<polyline points="284.02,421.27 313.26,416.36 342.50,383.44 371.74,371.79" fill="none" stroke="#000" stroke-width="1.05" stroke-linejoin="round"/>
<polygon points="282.10,420.31 285.94,420.31 284.02,423.67" fill="#000"/>
<polygon points="311.34,417.42 315.18,417.42 313.26,420.78" fill="#000"/>
<polygon points="340.58,401.06 344.42,401.06 342.50,404.42" fill="#000"/>
<line x1="371.74" y1="402.79" x2="371.74" y2="407.59" stroke="#000" stroke-width="0.8" stroke-linecap="butt"/>
<line x1="369.94" y1="402.79" x2="373.54" y2="402.79" stroke="#000" stroke-width="0.8" stroke-linecap="butt"/>
<line x1="369.94" y1="407.59" x2="373.54" y2="407.59" stroke="#000" stroke-width="0.8" stroke-linecap="butt"/>
<polygon points="369.82,403.66 373.66,403.66 371.74,407.02" fill="#000"/>
<polygon points="282.10,423.38 285.94,423.38 284.02,420.02" fill="#000"/>
<line x1="313.26" y1="417.17" x2="313.26" y2="420.37" stroke="#000" stroke-width="0.8" stroke-linecap="butt"/>
<line x1="311.46" y1="417.17" x2="315.06" y2="417.17" stroke="#000" stroke-width="0.8" stroke-linecap="butt"/>
<line x1="311.46" y1="420.37" x2="315.06" y2="420.37" stroke="#000" stroke-width="0.8" stroke-linecap="butt"/>
<polygon points="311.34,420.30 315.18,420.30 313.26,416.94" fill="#000"/>
<polygon points="340.58,404.03 344.42,404.03 342.50,400.67" fill="#000"/>
<polygon points="369.82,401.53 373.66,401.53 371.74,398.17" fill="#000"/>
<rect x="282.42" y="419.67" width="3.20" height="3.20" fill="#000"/>
<line x1="313.26" y1="414.56" x2="313.26" y2="418.16" stroke="#000" stroke-width="0.8" stroke-linecap="butt"/>
<line x1="311.46" y1="414.56" x2="315.06" y2="414.56" stroke="#000" stroke-width="0.8" stroke-linecap="butt"/>
<line x1="311.46" y1="418.16" x2="315.06" y2="418.16" stroke="#000" stroke-width="0.8" stroke-linecap="butt"/>
<rect x="311.66" y="414.76" width="3.20" height="3.20" fill="#000"/>
<line x1="342.50" y1="381.04" x2="342.50" y2="385.84" stroke="#000" stroke-width="0.8" stroke-linecap="butt"/>
<line x1="340.70" y1="381.04" x2="344.30" y2="381.04" stroke="#000" stroke-width="0.8" stroke-linecap="butt"/>
<line x1="340.70" y1="385.84" x2="344.30" y2="385.84" stroke="#000" stroke-width="0.8" stroke-linecap="butt"/>
<rect x="340.90" y="381.84" width="3.20" height="3.20" fill="#000"/>
<line x1="371.74" y1="368.39" x2="371.74" y2="375.19" stroke="#000" stroke-width="0.8" stroke-linecap="butt"/>
<line x1="369.94" y1="368.39" x2="373.54" y2="368.39" stroke="#000" stroke-width="0.8" stroke-linecap="butt"/>
<line x1="369.94" y1="375.19" x2="373.54" y2="375.19" stroke="#000" stroke-width="0.8" stroke-linecap="butt"/>
<rect x="370.14" y="370.19" width="3.20" height="3.20" fill="#000"/>
<text x="343.00" y="402.01" font-size="6.0" font-family="'Liberation Sans', Arial, sans-serif" fill="#555" text-anchor="middle" >***</text>
<text x="372.24" y="399.51" font-size="6.0" font-family="'Liberation Sans', Arial, sans-serif" fill="#555" text-anchor="middle" >***</text>
<line x1="269.40" y1="360.70" x2="269.40" y2="434.00" stroke="#000" stroke-width="1.35" stroke-linecap="butt"/>
<line x1="268.80" y1="433.40" x2="375.50" y2="433.40" stroke="#000" stroke-width="1.3" stroke-linecap="butt"/>
<line x1="266.70" y1="433.40" x2="269.40" y2="433.40" stroke="#000" stroke-width="0.9" stroke-linecap="butt"/>
<text x="266.50" y="435.50" font-size="5.8" font-family="'Liberation Sans', Arial, sans-serif" fill="#000" text-anchor="end" font-weight="bold" textLength="3.20" lengthAdjust="spacingAndGlyphs" >0</text>
<line x1="266.70" y1="409.33" x2="269.40" y2="409.33" stroke="#000" stroke-width="0.9" stroke-linecap="butt"/>
<text x="266.50" y="411.43" font-size="5.8" font-family="'Liberation Sans', Arial, sans-serif" fill="#000" text-anchor="end" font-weight="bold" textLength="6.40" lengthAdjust="spacingAndGlyphs" >25</text>
<line x1="266.70" y1="385.27" x2="269.40" y2="385.27" stroke="#000" stroke-width="0.9" stroke-linecap="butt"/>
<text x="266.50" y="387.37" font-size="5.8" font-family="'Liberation Sans', Arial, sans-serif" fill="#000" text-anchor="end" font-weight="bold" textLength="6.40" lengthAdjust="spacingAndGlyphs" >50</text>
<line x1="266.70" y1="361.20" x2="269.40" y2="361.20" stroke="#000" stroke-width="0.9" stroke-linecap="butt"/>
<text x="266.50" y="363.30" font-size="5.8" font-family="'Liberation Sans', Arial, sans-serif" fill="#000" text-anchor="end" font-weight="bold" textLength="6.40" lengthAdjust="spacingAndGlyphs" >75</text>
<line x1="269.40" y1="433.40" x2="269.40" y2="436.20" stroke="#000" stroke-width="0.9" stroke-linecap="butt"/>
<text x="269.40" y="441.00" font-size="5.8" font-family="'Liberation Sans', Arial, sans-serif" fill="#111" text-anchor="middle" font-weight="bold" textLength="3.20" lengthAdjust="spacingAndGlyphs" >0</text>
<line x1="284.02" y1="433.40" x2="284.02" y2="436.20" stroke="#000" stroke-width="0.9" stroke-linecap="butt"/>
<text x="284.02" y="441.00" font-size="5.8" font-family="'Liberation Sans', Arial, sans-serif" fill="#111" text-anchor="middle" font-weight="bold" textLength="3.20" lengthAdjust="spacingAndGlyphs" >1</text>
<line x1="298.64" y1="433.40" x2="298.64" y2="436.20" stroke="#000" stroke-width="0.9" stroke-linecap="butt"/>
<text x="298.64" y="441.00" font-size="5.8" font-family="'Liberation Sans', Arial, sans-serif" fill="#111" text-anchor="middle" font-weight="bold" textLength="3.20" lengthAdjust="spacingAndGlyphs" >2</text>
<line x1="313.26" y1="433.40" x2="313.26" y2="436.20" stroke="#000" stroke-width="0.9" stroke-linecap="butt"/>
<text x="313.26" y="441.00" font-size="5.8" font-family="'Liberation Sans', Arial, sans-serif" fill="#111" text-anchor="middle" font-weight="bold" textLength="3.20" lengthAdjust="spacingAndGlyphs" >3</text>
<line x1="327.88" y1="433.40" x2="327.88" y2="436.20" stroke="#000" stroke-width="0.9" stroke-linecap="butt"/>
<text x="327.88" y="441.00" font-size="5.8" font-family="'Liberation Sans', Arial, sans-serif" fill="#111" text-anchor="middle" font-weight="bold" textLength="3.20" lengthAdjust="spacingAndGlyphs" >4</text>
<line x1="342.50" y1="433.40" x2="342.50" y2="436.20" stroke="#000" stroke-width="0.9" stroke-linecap="butt"/>
<text x="342.50" y="441.00" font-size="5.8" font-family="'Liberation Sans', Arial, sans-serif" fill="#111" text-anchor="middle" font-weight="bold" textLength="3.20" lengthAdjust="spacingAndGlyphs" >5</text>
<line x1="357.12" y1="433.40" x2="357.12" y2="436.20" stroke="#000" stroke-width="0.9" stroke-linecap="butt"/>
<text x="357.12" y="441.00" font-size="5.8" font-family="'Liberation Sans', Arial, sans-serif" fill="#111" text-anchor="middle" font-weight="bold" textLength="3.20" lengthAdjust="spacingAndGlyphs" >6</text>
<line x1="371.74" y1="433.40" x2="371.74" y2="436.20" stroke="#000" stroke-width="0.9" stroke-linecap="butt"/>
<text x="371.74" y="441.00" font-size="5.8" font-family="'Liberation Sans', Arial, sans-serif" fill="#111" text-anchor="middle" font-weight="bold" textLength="3.20" lengthAdjust="spacingAndGlyphs" >7</text>
<text x="324.40" y="449.50" font-size="6.6" font-family="'Liberation Sans', Arial, sans-serif" fill="#000" text-anchor="middle" font-weight="bold" textLength="13.40" lengthAdjust="spacingAndGlyphs" stroke="#000" stroke-width="0.15">days</text>
<text x="257.50" y="417.60" font-size="7.2" font-family="'Liberation Sans', Arial, sans-serif" fill="#000" font-weight="bold" textLength="41.50" lengthAdjust="spacingAndGlyphs" transform="rotate(-90 257.50 417.60)" >%CD8+CD44+</text>
<text x="438.50" y="360.50" font-size="7.5" font-family="'Liberation Sans', Arial, sans-serif" fill="#000" font-weight="bold" textLength="45.00" lengthAdjust="spacingAndGlyphs" stroke="#000" stroke-width="0.2">CD8+CD122+</text>
<polyline points="421.44,426.42 450.72,422.77 480.00,409.38 509.28,413.52" fill="none" stroke="#333" stroke-width="0.9" stroke-dasharray="2.4 1.6" stroke-linejoin="round"/>
<polyline points="421.44,426.42 450.72,422.77 480.00,408.17 509.28,406.10" fill="none" stroke="#787878" stroke-width="1.1" stroke-linejoin="round"/>
<polyline points="421.44,426.30 450.72,422.52 480.00,377.38 509.28,370.69" fill="none" stroke="#000" stroke-width="1.05" stroke-linejoin="round"/>
<polygon points="419.52,424.88 423.36,424.88 421.44,428.24" fill="#000"/>
<polygon points="448.80,421.23 452.64,421.23 450.72,424.59" fill="#000"/>
<polygon points="478.08,407.85 481.92,407.85 480.00,411.21" fill="#000"/>
<polygon points="507.36,411.98 511.20,411.98 509.28,415.34" fill="#000"/>
<polygon points="419.52,427.95 423.36,427.95 421.44,424.59" fill="#000"/>
<polygon points="448.80,424.30 452.64,424.30 450.72,420.94" fill="#000"/>
<line x1="480.00" y1="405.37" x2="480.00" y2="410.97" stroke="#000" stroke-width="0.8" stroke-linecap="butt"/>
<line x1="478.20" y1="405.37" x2="481.80" y2="405.37" stroke="#000" stroke-width="0.8" stroke-linecap="butt"/>
<line x1="478.20" y1="410.97" x2="481.80" y2="410.97" stroke="#000" stroke-width="0.8" stroke-linecap="butt"/>
<polygon points="478.08,409.70 481.92,409.70 480.00,406.34" fill="#000"/>
<line x1="509.28" y1="404.10" x2="509.28" y2="408.10" stroke="#000" stroke-width="0.8" stroke-linecap="butt"/>
<line x1="507.48" y1="404.10" x2="511.08" y2="404.10" stroke="#000" stroke-width="0.8" stroke-linecap="butt"/>
<line x1="507.48" y1="408.10" x2="511.08" y2="408.10" stroke="#000" stroke-width="0.8" stroke-linecap="butt"/>
<polygon points="507.36,407.63 511.20,407.63 509.28,404.27" fill="#000"/>
<line x1="421.44" y1="425.30" x2="421.44" y2="427.30" stroke="#000" stroke-width="0.8" stroke-linecap="butt"/>
<line x1="419.64" y1="425.30" x2="423.24" y2="425.30" stroke="#000" stroke-width="0.8" stroke-linecap="butt"/>
<line x1="419.64" y1="427.30" x2="423.24" y2="427.30" stroke="#000" stroke-width="0.8" stroke-linecap="butt"/>
<rect x="419.84" y="424.69" width="3.20" height="3.20" fill="#000"/>
<line x1="450.72" y1="421.32" x2="450.72" y2="423.72" stroke="#000" stroke-width="0.8" stroke-linecap="butt"/>
<line x1="448.92" y1="421.32" x2="452.52" y2="421.32" stroke="#000" stroke-width="0.8" stroke-linecap="butt"/>
<line x1="448.92" y1="423.72" x2="452.52" y2="423.72" stroke="#000" stroke-width="0.8" stroke-linecap="butt"/>
<rect x="449.12" y="420.92" width="3.20" height="3.20" fill="#000"/>
<line x1="480.00" y1="374.19" x2="480.00" y2="380.58" stroke="#000" stroke-width="0.8" stroke-linecap="butt"/>
<line x1="478.20" y1="374.19" x2="481.80" y2="374.19" stroke="#000" stroke-width="0.8" stroke-linecap="butt"/>
<line x1="478.20" y1="380.58" x2="481.80" y2="380.58" stroke="#000" stroke-width="0.8" stroke-linecap="butt"/>
<rect x="478.40" y="375.78" width="3.20" height="3.20" fill="#000"/>
<line x1="509.28" y1="367.89" x2="509.28" y2="373.49" stroke="#000" stroke-width="0.8" stroke-linecap="butt"/>
<line x1="507.48" y1="367.89" x2="511.08" y2="367.89" stroke="#000" stroke-width="0.8" stroke-linecap="butt"/>
<line x1="507.48" y1="373.49" x2="511.08" y2="373.49" stroke="#000" stroke-width="0.8" stroke-linecap="butt"/>
<rect x="507.68" y="369.09" width="3.20" height="3.20" fill="#000"/>
<text x="480.50" y="406.26" font-size="6.0" font-family="'Liberation Sans', Arial, sans-serif" fill="#555" text-anchor="middle" >***</text>
<text x="509.78" y="404.51" font-size="6.0" font-family="'Liberation Sans', Arial, sans-serif" fill="#555" text-anchor="middle" >***</text>
<line x1="406.80" y1="359.00" x2="406.80" y2="433.10" stroke="#000" stroke-width="1.35" stroke-linecap="butt"/>
<line x1="406.20" y1="432.50" x2="513.00" y2="432.50" stroke="#000" stroke-width="1.3" stroke-linecap="butt"/>
<line x1="404.10" y1="432.50" x2="406.80" y2="432.50" stroke="#000" stroke-width="0.9" stroke-linecap="butt"/>
<text x="403.90" y="434.60" font-size="5.8" font-family="'Liberation Sans', Arial, sans-serif" fill="#000" text-anchor="end" font-weight="bold" textLength="3.20" lengthAdjust="spacingAndGlyphs" >0</text>
<line x1="404.10" y1="420.33" x2="406.80" y2="420.33" stroke="#000" stroke-width="0.9" stroke-linecap="butt"/>
<text x="403.90" y="422.43" font-size="5.8" font-family="'Liberation Sans', Arial, sans-serif" fill="#000" text-anchor="end" font-weight="bold" textLength="6.40" lengthAdjust="spacingAndGlyphs" >10</text>
<line x1="404.10" y1="408.17" x2="406.80" y2="408.17" stroke="#000" stroke-width="0.9" stroke-linecap="butt"/>
<text x="403.90" y="410.27" font-size="5.8" font-family="'Liberation Sans', Arial, sans-serif" fill="#000" text-anchor="end" font-weight="bold" textLength="6.40" lengthAdjust="spacingAndGlyphs" >20</text>
<line x1="404.10" y1="396.00" x2="406.80" y2="396.00" stroke="#000" stroke-width="0.9" stroke-linecap="butt"/>
<text x="403.90" y="398.10" font-size="5.8" font-family="'Liberation Sans', Arial, sans-serif" fill="#000" text-anchor="end" font-weight="bold" textLength="6.40" lengthAdjust="spacingAndGlyphs" >30</text>
<line x1="404.10" y1="383.83" x2="406.80" y2="383.83" stroke="#000" stroke-width="0.9" stroke-linecap="butt"/>
<text x="403.90" y="385.93" font-size="5.8" font-family="'Liberation Sans', Arial, sans-serif" fill="#000" text-anchor="end" font-weight="bold" textLength="6.40" lengthAdjust="spacingAndGlyphs" >40</text>
<line x1="404.10" y1="371.67" x2="406.80" y2="371.67" stroke="#000" stroke-width="0.9" stroke-linecap="butt"/>
<text x="403.90" y="373.77" font-size="5.8" font-family="'Liberation Sans', Arial, sans-serif" fill="#000" text-anchor="end" font-weight="bold" textLength="6.40" lengthAdjust="spacingAndGlyphs" >50</text>
<line x1="404.10" y1="359.50" x2="406.80" y2="359.50" stroke="#000" stroke-width="0.9" stroke-linecap="butt"/>
<text x="403.90" y="361.60" font-size="5.8" font-family="'Liberation Sans', Arial, sans-serif" fill="#000" text-anchor="end" font-weight="bold" textLength="6.40" lengthAdjust="spacingAndGlyphs" >60</text>
<line x1="406.80" y1="432.50" x2="406.80" y2="435.30" stroke="#000" stroke-width="0.9" stroke-linecap="butt"/>
<text x="406.80" y="440.90" font-size="5.8" font-family="'Liberation Sans', Arial, sans-serif" fill="#111" text-anchor="middle" font-weight="bold" textLength="3.20" lengthAdjust="spacingAndGlyphs" >0</text>
<line x1="421.44" y1="432.50" x2="421.44" y2="435.30" stroke="#000" stroke-width="0.9" stroke-linecap="butt"/>
<text x="421.44" y="440.90" font-size="5.8" font-family="'Liberation Sans', Arial, sans-serif" fill="#111" text-anchor="middle" font-weight="bold" textLength="3.20" lengthAdjust="spacingAndGlyphs" >1</text>
<line x1="436.08" y1="432.50" x2="436.08" y2="435.30" stroke="#000" stroke-width="0.9" stroke-linecap="butt"/>
<text x="436.08" y="440.90" font-size="5.8" font-family="'Liberation Sans', Arial, sans-serif" fill="#111" text-anchor="middle" font-weight="bold" textLength="3.20" lengthAdjust="spacingAndGlyphs" >2</text>
<line x1="450.72" y1="432.50" x2="450.72" y2="435.30" stroke="#000" stroke-width="0.9" stroke-linecap="butt"/>
<text x="450.72" y="440.90" font-size="5.8" font-family="'Liberation Sans', Arial, sans-serif" fill="#111" text-anchor="middle" font-weight="bold" textLength="3.20" lengthAdjust="spacingAndGlyphs" >3</text>
<line x1="465.36" y1="432.50" x2="465.36" y2="435.30" stroke="#000" stroke-width="0.9" stroke-linecap="butt"/>
<text x="465.36" y="440.90" font-size="5.8" font-family="'Liberation Sans', Arial, sans-serif" fill="#111" text-anchor="middle" font-weight="bold" textLength="3.20" lengthAdjust="spacingAndGlyphs" >4</text>
<line x1="480.00" y1="432.50" x2="480.00" y2="435.30" stroke="#000" stroke-width="0.9" stroke-linecap="butt"/>
<text x="480.00" y="440.90" font-size="5.8" font-family="'Liberation Sans', Arial, sans-serif" fill="#111" text-anchor="middle" font-weight="bold" textLength="3.20" lengthAdjust="spacingAndGlyphs" >5</text>
<line x1="494.64" y1="432.50" x2="494.64" y2="435.30" stroke="#000" stroke-width="0.9" stroke-linecap="butt"/>
<text x="494.64" y="440.90" font-size="5.8" font-family="'Liberation Sans', Arial, sans-serif" fill="#111" text-anchor="middle" font-weight="bold" textLength="3.20" lengthAdjust="spacingAndGlyphs" >6</text>
<line x1="509.28" y1="432.50" x2="509.28" y2="435.30" stroke="#000" stroke-width="0.9" stroke-linecap="butt"/>
<text x="509.28" y="440.90" font-size="5.8" font-family="'Liberation Sans', Arial, sans-serif" fill="#111" text-anchor="middle" font-weight="bold" textLength="3.20" lengthAdjust="spacingAndGlyphs" >7</text>
<text x="462.00" y="449.80" font-size="6.6" font-family="'Liberation Sans', Arial, sans-serif" fill="#000" text-anchor="middle" font-weight="bold" textLength="13.40" lengthAdjust="spacingAndGlyphs" stroke="#000" stroke-width="0.15">days</text>
<text x="394.30" y="418.80" font-size="7.2" font-family="'Liberation Sans', Arial, sans-serif" fill="#000" font-weight="bold" textLength="43.20" lengthAdjust="spacingAndGlyphs" transform="rotate(-90 394.30 418.80)" >%CD8+CD122+</text>
<text x="247.20" y="13.80" font-size="17.3" font-family="'Liberation Sans', Arial, sans-serif" fill="#000" font-weight="bold" stroke="#000" stroke-width="0.3">D</text>
<text x="249.10" y="236.80" font-size="17.3" font-family="'Liberation Sans', Arial, sans-serif" fill="#000" font-weight="bold" stroke="#000" stroke-width="0.3">E</text>
</g>
<defs><filter id="soft" x="-5%" y="-5%" width="110%" height="110%"><feGaussianBlur stdDeviation="0.35"/></filter></defs>
</svg>
</body>
</html>
